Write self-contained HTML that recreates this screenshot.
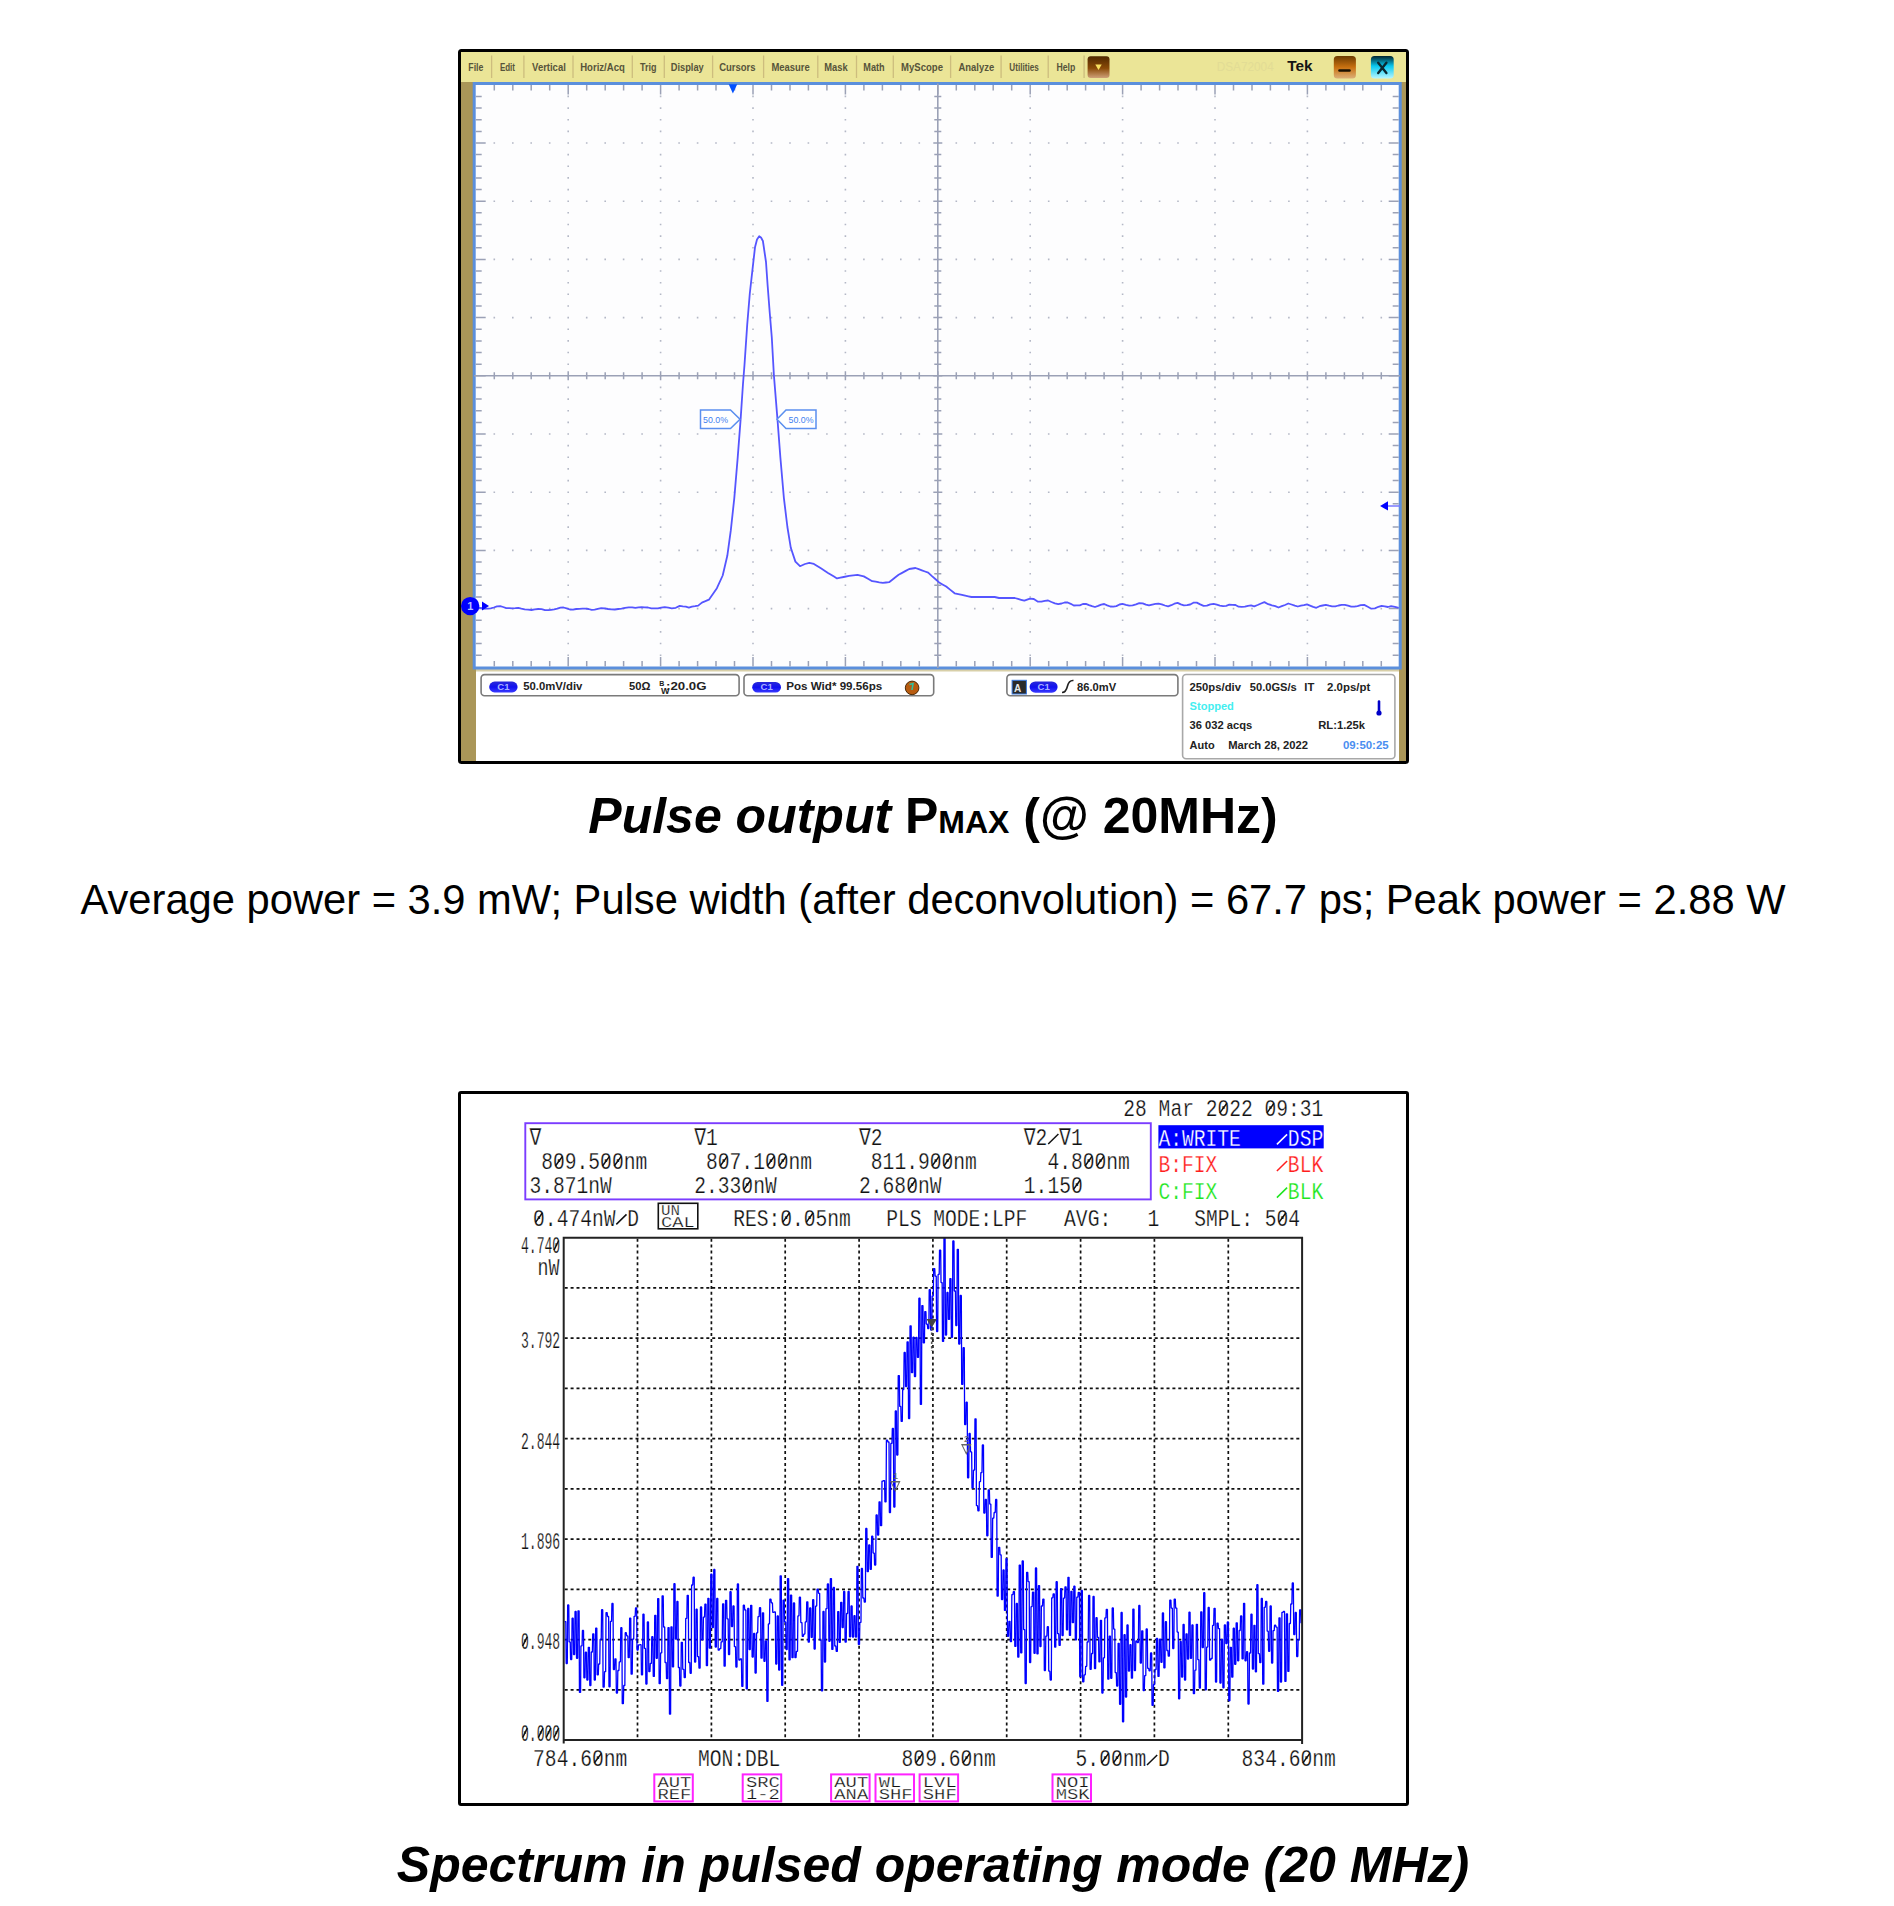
<!DOCTYPE html>
<html><head><meta charset="utf-8"><style>html,body{margin:0;padding:0;background:#fff;}#pg{position:relative;width:1894px;height:1906px;overflow:hidden;background:#fff;}svg{position:absolute;left:0;top:0;}.cap{position:absolute;left:0;width:1866px;text-align:center;font-family:"Liberation Sans",sans-serif;color:#000;white-space:nowrap;}</style></head><body><div id="pg">
<svg width="1894" height="1906" viewBox="0 0 1894 1906">
<rect x="459.5" y="50.5" width="948" height="712" rx="2" fill="#fff" stroke="#000" stroke-width="3"/>
<rect x="461" y="52" width="945" height="30" fill="#ebe597"/>
<rect x="461" y="82" width="15" height="679" fill="#aa9658"/>
<rect x="1399" y="82" width="7" height="679" fill="#aa9658"/>
<rect x="476" y="669" width="923" height="2.5" fill="#d8cfa8"/>
<rect x="474.2" y="83.5" width="926.00" height="584.50" fill="#fdfdfe" stroke="#5b8fdc" stroke-width="3"/>
<path d="M567.4 95.6h1.6v1.6h-1.6zM567.4 107.3h1.6v1.6h-1.6zM567.4 118.9h1.6v1.6h-1.6zM567.4 130.6h1.6v1.6h-1.6zM567.4 142.2h1.6v1.6h-1.6zM567.4 153.8h1.6v1.6h-1.6zM567.4 165.5h1.6v1.6h-1.6zM567.4 177.1h1.6v1.6h-1.6zM567.4 188.8h1.6v1.6h-1.6zM567.4 200.4h1.6v1.6h-1.6zM567.4 212.0h1.6v1.6h-1.6zM567.4 223.7h1.6v1.6h-1.6zM567.4 235.3h1.6v1.6h-1.6zM567.4 247.0h1.6v1.6h-1.6zM567.4 258.6h1.6v1.6h-1.6zM567.4 270.2h1.6v1.6h-1.6zM567.4 281.9h1.6v1.6h-1.6zM567.4 293.5h1.6v1.6h-1.6zM567.4 305.2h1.6v1.6h-1.6zM567.4 316.8h1.6v1.6h-1.6zM567.4 328.4h1.6v1.6h-1.6zM567.4 340.1h1.6v1.6h-1.6zM567.4 351.7h1.6v1.6h-1.6zM567.4 363.4h1.6v1.6h-1.6zM567.4 375.0h1.6v1.6h-1.6zM567.4 386.6h1.6v1.6h-1.6zM567.4 398.3h1.6v1.6h-1.6zM567.4 409.9h1.6v1.6h-1.6zM567.4 421.6h1.6v1.6h-1.6zM567.4 433.2h1.6v1.6h-1.6zM567.4 444.8h1.6v1.6h-1.6zM567.4 456.5h1.6v1.6h-1.6zM567.4 468.1h1.6v1.6h-1.6zM567.4 479.8h1.6v1.6h-1.6zM567.4 491.4h1.6v1.6h-1.6zM567.4 503.0h1.6v1.6h-1.6zM567.4 514.7h1.6v1.6h-1.6zM567.4 526.3h1.6v1.6h-1.6zM567.4 538.0h1.6v1.6h-1.6zM567.4 549.6h1.6v1.6h-1.6zM567.4 561.2h1.6v1.6h-1.6zM567.4 572.9h1.6v1.6h-1.6zM567.4 584.5h1.6v1.6h-1.6zM567.4 596.2h1.6v1.6h-1.6zM567.4 607.8h1.6v1.6h-1.6zM567.4 619.4h1.6v1.6h-1.6zM567.4 631.1h1.6v1.6h-1.6zM567.4 642.7h1.6v1.6h-1.6zM567.4 654.4h1.6v1.6h-1.6zM659.8 95.6h1.6v1.6h-1.6zM659.8 107.3h1.6v1.6h-1.6zM659.8 118.9h1.6v1.6h-1.6zM659.8 130.6h1.6v1.6h-1.6zM659.8 142.2h1.6v1.6h-1.6zM659.8 153.8h1.6v1.6h-1.6zM659.8 165.5h1.6v1.6h-1.6zM659.8 177.1h1.6v1.6h-1.6zM659.8 188.8h1.6v1.6h-1.6zM659.8 200.4h1.6v1.6h-1.6zM659.8 212.0h1.6v1.6h-1.6zM659.8 223.7h1.6v1.6h-1.6zM659.8 235.3h1.6v1.6h-1.6zM659.8 247.0h1.6v1.6h-1.6zM659.8 258.6h1.6v1.6h-1.6zM659.8 270.2h1.6v1.6h-1.6zM659.8 281.9h1.6v1.6h-1.6zM659.8 293.5h1.6v1.6h-1.6zM659.8 305.2h1.6v1.6h-1.6zM659.8 316.8h1.6v1.6h-1.6zM659.8 328.4h1.6v1.6h-1.6zM659.8 340.1h1.6v1.6h-1.6zM659.8 351.7h1.6v1.6h-1.6zM659.8 363.4h1.6v1.6h-1.6zM659.8 375.0h1.6v1.6h-1.6zM659.8 386.6h1.6v1.6h-1.6zM659.8 398.3h1.6v1.6h-1.6zM659.8 409.9h1.6v1.6h-1.6zM659.8 421.6h1.6v1.6h-1.6zM659.8 433.2h1.6v1.6h-1.6zM659.8 444.8h1.6v1.6h-1.6zM659.8 456.5h1.6v1.6h-1.6zM659.8 468.1h1.6v1.6h-1.6zM659.8 479.8h1.6v1.6h-1.6zM659.8 491.4h1.6v1.6h-1.6zM659.8 503.0h1.6v1.6h-1.6zM659.8 514.7h1.6v1.6h-1.6zM659.8 526.3h1.6v1.6h-1.6zM659.8 538.0h1.6v1.6h-1.6zM659.8 549.6h1.6v1.6h-1.6zM659.8 561.2h1.6v1.6h-1.6zM659.8 572.9h1.6v1.6h-1.6zM659.8 584.5h1.6v1.6h-1.6zM659.8 596.2h1.6v1.6h-1.6zM659.8 607.8h1.6v1.6h-1.6zM659.8 619.4h1.6v1.6h-1.6zM659.8 631.1h1.6v1.6h-1.6zM659.8 642.7h1.6v1.6h-1.6zM659.8 654.4h1.6v1.6h-1.6zM752.2 95.6h1.6v1.6h-1.6zM752.2 107.3h1.6v1.6h-1.6zM752.2 118.9h1.6v1.6h-1.6zM752.2 130.6h1.6v1.6h-1.6zM752.2 142.2h1.6v1.6h-1.6zM752.2 153.8h1.6v1.6h-1.6zM752.2 165.5h1.6v1.6h-1.6zM752.2 177.1h1.6v1.6h-1.6zM752.2 188.8h1.6v1.6h-1.6zM752.2 200.4h1.6v1.6h-1.6zM752.2 212.0h1.6v1.6h-1.6zM752.2 223.7h1.6v1.6h-1.6zM752.2 235.3h1.6v1.6h-1.6zM752.2 247.0h1.6v1.6h-1.6zM752.2 258.6h1.6v1.6h-1.6zM752.2 270.2h1.6v1.6h-1.6zM752.2 281.9h1.6v1.6h-1.6zM752.2 293.5h1.6v1.6h-1.6zM752.2 305.2h1.6v1.6h-1.6zM752.2 316.8h1.6v1.6h-1.6zM752.2 328.4h1.6v1.6h-1.6zM752.2 340.1h1.6v1.6h-1.6zM752.2 351.7h1.6v1.6h-1.6zM752.2 363.4h1.6v1.6h-1.6zM752.2 375.0h1.6v1.6h-1.6zM752.2 386.6h1.6v1.6h-1.6zM752.2 398.3h1.6v1.6h-1.6zM752.2 409.9h1.6v1.6h-1.6zM752.2 421.6h1.6v1.6h-1.6zM752.2 433.2h1.6v1.6h-1.6zM752.2 444.8h1.6v1.6h-1.6zM752.2 456.5h1.6v1.6h-1.6zM752.2 468.1h1.6v1.6h-1.6zM752.2 479.8h1.6v1.6h-1.6zM752.2 491.4h1.6v1.6h-1.6zM752.2 503.0h1.6v1.6h-1.6zM752.2 514.7h1.6v1.6h-1.6zM752.2 526.3h1.6v1.6h-1.6zM752.2 538.0h1.6v1.6h-1.6zM752.2 549.6h1.6v1.6h-1.6zM752.2 561.2h1.6v1.6h-1.6zM752.2 572.9h1.6v1.6h-1.6zM752.2 584.5h1.6v1.6h-1.6zM752.2 596.2h1.6v1.6h-1.6zM752.2 607.8h1.6v1.6h-1.6zM752.2 619.4h1.6v1.6h-1.6zM752.2 631.1h1.6v1.6h-1.6zM752.2 642.7h1.6v1.6h-1.6zM752.2 654.4h1.6v1.6h-1.6zM844.6 95.6h1.6v1.6h-1.6zM844.6 107.3h1.6v1.6h-1.6zM844.6 118.9h1.6v1.6h-1.6zM844.6 130.6h1.6v1.6h-1.6zM844.6 142.2h1.6v1.6h-1.6zM844.6 153.8h1.6v1.6h-1.6zM844.6 165.5h1.6v1.6h-1.6zM844.6 177.1h1.6v1.6h-1.6zM844.6 188.8h1.6v1.6h-1.6zM844.6 200.4h1.6v1.6h-1.6zM844.6 212.0h1.6v1.6h-1.6zM844.6 223.7h1.6v1.6h-1.6zM844.6 235.3h1.6v1.6h-1.6zM844.6 247.0h1.6v1.6h-1.6zM844.6 258.6h1.6v1.6h-1.6zM844.6 270.2h1.6v1.6h-1.6zM844.6 281.9h1.6v1.6h-1.6zM844.6 293.5h1.6v1.6h-1.6zM844.6 305.2h1.6v1.6h-1.6zM844.6 316.8h1.6v1.6h-1.6zM844.6 328.4h1.6v1.6h-1.6zM844.6 340.1h1.6v1.6h-1.6zM844.6 351.7h1.6v1.6h-1.6zM844.6 363.4h1.6v1.6h-1.6zM844.6 375.0h1.6v1.6h-1.6zM844.6 386.6h1.6v1.6h-1.6zM844.6 398.3h1.6v1.6h-1.6zM844.6 409.9h1.6v1.6h-1.6zM844.6 421.6h1.6v1.6h-1.6zM844.6 433.2h1.6v1.6h-1.6zM844.6 444.8h1.6v1.6h-1.6zM844.6 456.5h1.6v1.6h-1.6zM844.6 468.1h1.6v1.6h-1.6zM844.6 479.8h1.6v1.6h-1.6zM844.6 491.4h1.6v1.6h-1.6zM844.6 503.0h1.6v1.6h-1.6zM844.6 514.7h1.6v1.6h-1.6zM844.6 526.3h1.6v1.6h-1.6zM844.6 538.0h1.6v1.6h-1.6zM844.6 549.6h1.6v1.6h-1.6zM844.6 561.2h1.6v1.6h-1.6zM844.6 572.9h1.6v1.6h-1.6zM844.6 584.5h1.6v1.6h-1.6zM844.6 596.2h1.6v1.6h-1.6zM844.6 607.8h1.6v1.6h-1.6zM844.6 619.4h1.6v1.6h-1.6zM844.6 631.1h1.6v1.6h-1.6zM844.6 642.7h1.6v1.6h-1.6zM844.6 654.4h1.6v1.6h-1.6zM1029.4 95.6h1.6v1.6h-1.6zM1029.4 107.3h1.6v1.6h-1.6zM1029.4 118.9h1.6v1.6h-1.6zM1029.4 130.6h1.6v1.6h-1.6zM1029.4 142.2h1.6v1.6h-1.6zM1029.4 153.8h1.6v1.6h-1.6zM1029.4 165.5h1.6v1.6h-1.6zM1029.4 177.1h1.6v1.6h-1.6zM1029.4 188.8h1.6v1.6h-1.6zM1029.4 200.4h1.6v1.6h-1.6zM1029.4 212.0h1.6v1.6h-1.6zM1029.4 223.7h1.6v1.6h-1.6zM1029.4 235.3h1.6v1.6h-1.6zM1029.4 247.0h1.6v1.6h-1.6zM1029.4 258.6h1.6v1.6h-1.6zM1029.4 270.2h1.6v1.6h-1.6zM1029.4 281.9h1.6v1.6h-1.6zM1029.4 293.5h1.6v1.6h-1.6zM1029.4 305.2h1.6v1.6h-1.6zM1029.4 316.8h1.6v1.6h-1.6zM1029.4 328.4h1.6v1.6h-1.6zM1029.4 340.1h1.6v1.6h-1.6zM1029.4 351.7h1.6v1.6h-1.6zM1029.4 363.4h1.6v1.6h-1.6zM1029.4 375.0h1.6v1.6h-1.6zM1029.4 386.6h1.6v1.6h-1.6zM1029.4 398.3h1.6v1.6h-1.6zM1029.4 409.9h1.6v1.6h-1.6zM1029.4 421.6h1.6v1.6h-1.6zM1029.4 433.2h1.6v1.6h-1.6zM1029.4 444.8h1.6v1.6h-1.6zM1029.4 456.5h1.6v1.6h-1.6zM1029.4 468.1h1.6v1.6h-1.6zM1029.4 479.8h1.6v1.6h-1.6zM1029.4 491.4h1.6v1.6h-1.6zM1029.4 503.0h1.6v1.6h-1.6zM1029.4 514.7h1.6v1.6h-1.6zM1029.4 526.3h1.6v1.6h-1.6zM1029.4 538.0h1.6v1.6h-1.6zM1029.4 549.6h1.6v1.6h-1.6zM1029.4 561.2h1.6v1.6h-1.6zM1029.4 572.9h1.6v1.6h-1.6zM1029.4 584.5h1.6v1.6h-1.6zM1029.4 596.2h1.6v1.6h-1.6zM1029.4 607.8h1.6v1.6h-1.6zM1029.4 619.4h1.6v1.6h-1.6zM1029.4 631.1h1.6v1.6h-1.6zM1029.4 642.7h1.6v1.6h-1.6zM1029.4 654.4h1.6v1.6h-1.6zM1121.8 95.6h1.6v1.6h-1.6zM1121.8 107.3h1.6v1.6h-1.6zM1121.8 118.9h1.6v1.6h-1.6zM1121.8 130.6h1.6v1.6h-1.6zM1121.8 142.2h1.6v1.6h-1.6zM1121.8 153.8h1.6v1.6h-1.6zM1121.8 165.5h1.6v1.6h-1.6zM1121.8 177.1h1.6v1.6h-1.6zM1121.8 188.8h1.6v1.6h-1.6zM1121.8 200.4h1.6v1.6h-1.6zM1121.8 212.0h1.6v1.6h-1.6zM1121.8 223.7h1.6v1.6h-1.6zM1121.8 235.3h1.6v1.6h-1.6zM1121.8 247.0h1.6v1.6h-1.6zM1121.8 258.6h1.6v1.6h-1.6zM1121.8 270.2h1.6v1.6h-1.6zM1121.8 281.9h1.6v1.6h-1.6zM1121.8 293.5h1.6v1.6h-1.6zM1121.8 305.2h1.6v1.6h-1.6zM1121.8 316.8h1.6v1.6h-1.6zM1121.8 328.4h1.6v1.6h-1.6zM1121.8 340.1h1.6v1.6h-1.6zM1121.8 351.7h1.6v1.6h-1.6zM1121.8 363.4h1.6v1.6h-1.6zM1121.8 375.0h1.6v1.6h-1.6zM1121.8 386.6h1.6v1.6h-1.6zM1121.8 398.3h1.6v1.6h-1.6zM1121.8 409.9h1.6v1.6h-1.6zM1121.8 421.6h1.6v1.6h-1.6zM1121.8 433.2h1.6v1.6h-1.6zM1121.8 444.8h1.6v1.6h-1.6zM1121.8 456.5h1.6v1.6h-1.6zM1121.8 468.1h1.6v1.6h-1.6zM1121.8 479.8h1.6v1.6h-1.6zM1121.8 491.4h1.6v1.6h-1.6zM1121.8 503.0h1.6v1.6h-1.6zM1121.8 514.7h1.6v1.6h-1.6zM1121.8 526.3h1.6v1.6h-1.6zM1121.8 538.0h1.6v1.6h-1.6zM1121.8 549.6h1.6v1.6h-1.6zM1121.8 561.2h1.6v1.6h-1.6zM1121.8 572.9h1.6v1.6h-1.6zM1121.8 584.5h1.6v1.6h-1.6zM1121.8 596.2h1.6v1.6h-1.6zM1121.8 607.8h1.6v1.6h-1.6zM1121.8 619.4h1.6v1.6h-1.6zM1121.8 631.1h1.6v1.6h-1.6zM1121.8 642.7h1.6v1.6h-1.6zM1121.8 654.4h1.6v1.6h-1.6zM1214.2 95.6h1.6v1.6h-1.6zM1214.2 107.3h1.6v1.6h-1.6zM1214.2 118.9h1.6v1.6h-1.6zM1214.2 130.6h1.6v1.6h-1.6zM1214.2 142.2h1.6v1.6h-1.6zM1214.2 153.8h1.6v1.6h-1.6zM1214.2 165.5h1.6v1.6h-1.6zM1214.2 177.1h1.6v1.6h-1.6zM1214.2 188.8h1.6v1.6h-1.6zM1214.2 200.4h1.6v1.6h-1.6zM1214.2 212.0h1.6v1.6h-1.6zM1214.2 223.7h1.6v1.6h-1.6zM1214.2 235.3h1.6v1.6h-1.6zM1214.2 247.0h1.6v1.6h-1.6zM1214.2 258.6h1.6v1.6h-1.6zM1214.2 270.2h1.6v1.6h-1.6zM1214.2 281.9h1.6v1.6h-1.6zM1214.2 293.5h1.6v1.6h-1.6zM1214.2 305.2h1.6v1.6h-1.6zM1214.2 316.8h1.6v1.6h-1.6zM1214.2 328.4h1.6v1.6h-1.6zM1214.2 340.1h1.6v1.6h-1.6zM1214.2 351.7h1.6v1.6h-1.6zM1214.2 363.4h1.6v1.6h-1.6zM1214.2 375.0h1.6v1.6h-1.6zM1214.2 386.6h1.6v1.6h-1.6zM1214.2 398.3h1.6v1.6h-1.6zM1214.2 409.9h1.6v1.6h-1.6zM1214.2 421.6h1.6v1.6h-1.6zM1214.2 433.2h1.6v1.6h-1.6zM1214.2 444.8h1.6v1.6h-1.6zM1214.2 456.5h1.6v1.6h-1.6zM1214.2 468.1h1.6v1.6h-1.6zM1214.2 479.8h1.6v1.6h-1.6zM1214.2 491.4h1.6v1.6h-1.6zM1214.2 503.0h1.6v1.6h-1.6zM1214.2 514.7h1.6v1.6h-1.6zM1214.2 526.3h1.6v1.6h-1.6zM1214.2 538.0h1.6v1.6h-1.6zM1214.2 549.6h1.6v1.6h-1.6zM1214.2 561.2h1.6v1.6h-1.6zM1214.2 572.9h1.6v1.6h-1.6zM1214.2 584.5h1.6v1.6h-1.6zM1214.2 596.2h1.6v1.6h-1.6zM1214.2 607.8h1.6v1.6h-1.6zM1214.2 619.4h1.6v1.6h-1.6zM1214.2 631.1h1.6v1.6h-1.6zM1214.2 642.7h1.6v1.6h-1.6zM1214.2 654.4h1.6v1.6h-1.6zM1306.6 95.6h1.6v1.6h-1.6zM1306.6 107.3h1.6v1.6h-1.6zM1306.6 118.9h1.6v1.6h-1.6zM1306.6 130.6h1.6v1.6h-1.6zM1306.6 142.2h1.6v1.6h-1.6zM1306.6 153.8h1.6v1.6h-1.6zM1306.6 165.5h1.6v1.6h-1.6zM1306.6 177.1h1.6v1.6h-1.6zM1306.6 188.8h1.6v1.6h-1.6zM1306.6 200.4h1.6v1.6h-1.6zM1306.6 212.0h1.6v1.6h-1.6zM1306.6 223.7h1.6v1.6h-1.6zM1306.6 235.3h1.6v1.6h-1.6zM1306.6 247.0h1.6v1.6h-1.6zM1306.6 258.6h1.6v1.6h-1.6zM1306.6 270.2h1.6v1.6h-1.6zM1306.6 281.9h1.6v1.6h-1.6zM1306.6 293.5h1.6v1.6h-1.6zM1306.6 305.2h1.6v1.6h-1.6zM1306.6 316.8h1.6v1.6h-1.6zM1306.6 328.4h1.6v1.6h-1.6zM1306.6 340.1h1.6v1.6h-1.6zM1306.6 351.7h1.6v1.6h-1.6zM1306.6 363.4h1.6v1.6h-1.6zM1306.6 375.0h1.6v1.6h-1.6zM1306.6 386.6h1.6v1.6h-1.6zM1306.6 398.3h1.6v1.6h-1.6zM1306.6 409.9h1.6v1.6h-1.6zM1306.6 421.6h1.6v1.6h-1.6zM1306.6 433.2h1.6v1.6h-1.6zM1306.6 444.8h1.6v1.6h-1.6zM1306.6 456.5h1.6v1.6h-1.6zM1306.6 468.1h1.6v1.6h-1.6zM1306.6 479.8h1.6v1.6h-1.6zM1306.6 491.4h1.6v1.6h-1.6zM1306.6 503.0h1.6v1.6h-1.6zM1306.6 514.7h1.6v1.6h-1.6zM1306.6 526.3h1.6v1.6h-1.6zM1306.6 538.0h1.6v1.6h-1.6zM1306.6 549.6h1.6v1.6h-1.6zM1306.6 561.2h1.6v1.6h-1.6zM1306.6 572.9h1.6v1.6h-1.6zM1306.6 584.5h1.6v1.6h-1.6zM1306.6 596.2h1.6v1.6h-1.6zM1306.6 607.8h1.6v1.6h-1.6zM1306.6 619.4h1.6v1.6h-1.6zM1306.6 631.1h1.6v1.6h-1.6zM1306.6 642.7h1.6v1.6h-1.6zM1306.6 654.4h1.6v1.6h-1.6zM493.5 142.2h1.6v1.6h-1.6zM512.0 142.2h1.6v1.6h-1.6zM530.4 142.2h1.6v1.6h-1.6zM548.9 142.2h1.6v1.6h-1.6zM567.4 142.2h1.6v1.6h-1.6zM585.9 142.2h1.6v1.6h-1.6zM604.4 142.2h1.6v1.6h-1.6zM622.8 142.2h1.6v1.6h-1.6zM641.3 142.2h1.6v1.6h-1.6zM659.8 142.2h1.6v1.6h-1.6zM678.3 142.2h1.6v1.6h-1.6zM696.8 142.2h1.6v1.6h-1.6zM715.2 142.2h1.6v1.6h-1.6zM733.7 142.2h1.6v1.6h-1.6zM752.2 142.2h1.6v1.6h-1.6zM770.7 142.2h1.6v1.6h-1.6zM789.2 142.2h1.6v1.6h-1.6zM807.6 142.2h1.6v1.6h-1.6zM826.1 142.2h1.6v1.6h-1.6zM844.6 142.2h1.6v1.6h-1.6zM863.1 142.2h1.6v1.6h-1.6zM881.6 142.2h1.6v1.6h-1.6zM900.0 142.2h1.6v1.6h-1.6zM918.5 142.2h1.6v1.6h-1.6zM937.0 142.2h1.6v1.6h-1.6zM955.5 142.2h1.6v1.6h-1.6zM974.0 142.2h1.6v1.6h-1.6zM992.4 142.2h1.6v1.6h-1.6zM1010.9 142.2h1.6v1.6h-1.6zM1029.4 142.2h1.6v1.6h-1.6zM1047.9 142.2h1.6v1.6h-1.6zM1066.4 142.2h1.6v1.6h-1.6zM1084.8 142.2h1.6v1.6h-1.6zM1103.3 142.2h1.6v1.6h-1.6zM1121.8 142.2h1.6v1.6h-1.6zM1140.3 142.2h1.6v1.6h-1.6zM1158.8 142.2h1.6v1.6h-1.6zM1177.2 142.2h1.6v1.6h-1.6zM1195.7 142.2h1.6v1.6h-1.6zM1214.2 142.2h1.6v1.6h-1.6zM1232.7 142.2h1.6v1.6h-1.6zM1251.2 142.2h1.6v1.6h-1.6zM1269.6 142.2h1.6v1.6h-1.6zM1288.1 142.2h1.6v1.6h-1.6zM1306.6 142.2h1.6v1.6h-1.6zM1325.1 142.2h1.6v1.6h-1.6zM1343.6 142.2h1.6v1.6h-1.6zM1362.0 142.2h1.6v1.6h-1.6zM1380.5 142.2h1.6v1.6h-1.6zM493.5 200.4h1.6v1.6h-1.6zM512.0 200.4h1.6v1.6h-1.6zM530.4 200.4h1.6v1.6h-1.6zM548.9 200.4h1.6v1.6h-1.6zM567.4 200.4h1.6v1.6h-1.6zM585.9 200.4h1.6v1.6h-1.6zM604.4 200.4h1.6v1.6h-1.6zM622.8 200.4h1.6v1.6h-1.6zM641.3 200.4h1.6v1.6h-1.6zM659.8 200.4h1.6v1.6h-1.6zM678.3 200.4h1.6v1.6h-1.6zM696.8 200.4h1.6v1.6h-1.6zM715.2 200.4h1.6v1.6h-1.6zM733.7 200.4h1.6v1.6h-1.6zM752.2 200.4h1.6v1.6h-1.6zM770.7 200.4h1.6v1.6h-1.6zM789.2 200.4h1.6v1.6h-1.6zM807.6 200.4h1.6v1.6h-1.6zM826.1 200.4h1.6v1.6h-1.6zM844.6 200.4h1.6v1.6h-1.6zM863.1 200.4h1.6v1.6h-1.6zM881.6 200.4h1.6v1.6h-1.6zM900.0 200.4h1.6v1.6h-1.6zM918.5 200.4h1.6v1.6h-1.6zM937.0 200.4h1.6v1.6h-1.6zM955.5 200.4h1.6v1.6h-1.6zM974.0 200.4h1.6v1.6h-1.6zM992.4 200.4h1.6v1.6h-1.6zM1010.9 200.4h1.6v1.6h-1.6zM1029.4 200.4h1.6v1.6h-1.6zM1047.9 200.4h1.6v1.6h-1.6zM1066.4 200.4h1.6v1.6h-1.6zM1084.8 200.4h1.6v1.6h-1.6zM1103.3 200.4h1.6v1.6h-1.6zM1121.8 200.4h1.6v1.6h-1.6zM1140.3 200.4h1.6v1.6h-1.6zM1158.8 200.4h1.6v1.6h-1.6zM1177.2 200.4h1.6v1.6h-1.6zM1195.7 200.4h1.6v1.6h-1.6zM1214.2 200.4h1.6v1.6h-1.6zM1232.7 200.4h1.6v1.6h-1.6zM1251.2 200.4h1.6v1.6h-1.6zM1269.6 200.4h1.6v1.6h-1.6zM1288.1 200.4h1.6v1.6h-1.6zM1306.6 200.4h1.6v1.6h-1.6zM1325.1 200.4h1.6v1.6h-1.6zM1343.6 200.4h1.6v1.6h-1.6zM1362.0 200.4h1.6v1.6h-1.6zM1380.5 200.4h1.6v1.6h-1.6zM493.5 258.6h1.6v1.6h-1.6zM512.0 258.6h1.6v1.6h-1.6zM530.4 258.6h1.6v1.6h-1.6zM548.9 258.6h1.6v1.6h-1.6zM567.4 258.6h1.6v1.6h-1.6zM585.9 258.6h1.6v1.6h-1.6zM604.4 258.6h1.6v1.6h-1.6zM622.8 258.6h1.6v1.6h-1.6zM641.3 258.6h1.6v1.6h-1.6zM659.8 258.6h1.6v1.6h-1.6zM678.3 258.6h1.6v1.6h-1.6zM696.8 258.6h1.6v1.6h-1.6zM715.2 258.6h1.6v1.6h-1.6zM733.7 258.6h1.6v1.6h-1.6zM752.2 258.6h1.6v1.6h-1.6zM770.7 258.6h1.6v1.6h-1.6zM789.2 258.6h1.6v1.6h-1.6zM807.6 258.6h1.6v1.6h-1.6zM826.1 258.6h1.6v1.6h-1.6zM844.6 258.6h1.6v1.6h-1.6zM863.1 258.6h1.6v1.6h-1.6zM881.6 258.6h1.6v1.6h-1.6zM900.0 258.6h1.6v1.6h-1.6zM918.5 258.6h1.6v1.6h-1.6zM937.0 258.6h1.6v1.6h-1.6zM955.5 258.6h1.6v1.6h-1.6zM974.0 258.6h1.6v1.6h-1.6zM992.4 258.6h1.6v1.6h-1.6zM1010.9 258.6h1.6v1.6h-1.6zM1029.4 258.6h1.6v1.6h-1.6zM1047.9 258.6h1.6v1.6h-1.6zM1066.4 258.6h1.6v1.6h-1.6zM1084.8 258.6h1.6v1.6h-1.6zM1103.3 258.6h1.6v1.6h-1.6zM1121.8 258.6h1.6v1.6h-1.6zM1140.3 258.6h1.6v1.6h-1.6zM1158.8 258.6h1.6v1.6h-1.6zM1177.2 258.6h1.6v1.6h-1.6zM1195.7 258.6h1.6v1.6h-1.6zM1214.2 258.6h1.6v1.6h-1.6zM1232.7 258.6h1.6v1.6h-1.6zM1251.2 258.6h1.6v1.6h-1.6zM1269.6 258.6h1.6v1.6h-1.6zM1288.1 258.6h1.6v1.6h-1.6zM1306.6 258.6h1.6v1.6h-1.6zM1325.1 258.6h1.6v1.6h-1.6zM1343.6 258.6h1.6v1.6h-1.6zM1362.0 258.6h1.6v1.6h-1.6zM1380.5 258.6h1.6v1.6h-1.6zM493.5 316.8h1.6v1.6h-1.6zM512.0 316.8h1.6v1.6h-1.6zM530.4 316.8h1.6v1.6h-1.6zM548.9 316.8h1.6v1.6h-1.6zM567.4 316.8h1.6v1.6h-1.6zM585.9 316.8h1.6v1.6h-1.6zM604.4 316.8h1.6v1.6h-1.6zM622.8 316.8h1.6v1.6h-1.6zM641.3 316.8h1.6v1.6h-1.6zM659.8 316.8h1.6v1.6h-1.6zM678.3 316.8h1.6v1.6h-1.6zM696.8 316.8h1.6v1.6h-1.6zM715.2 316.8h1.6v1.6h-1.6zM733.7 316.8h1.6v1.6h-1.6zM752.2 316.8h1.6v1.6h-1.6zM770.7 316.8h1.6v1.6h-1.6zM789.2 316.8h1.6v1.6h-1.6zM807.6 316.8h1.6v1.6h-1.6zM826.1 316.8h1.6v1.6h-1.6zM844.6 316.8h1.6v1.6h-1.6zM863.1 316.8h1.6v1.6h-1.6zM881.6 316.8h1.6v1.6h-1.6zM900.0 316.8h1.6v1.6h-1.6zM918.5 316.8h1.6v1.6h-1.6zM937.0 316.8h1.6v1.6h-1.6zM955.5 316.8h1.6v1.6h-1.6zM974.0 316.8h1.6v1.6h-1.6zM992.4 316.8h1.6v1.6h-1.6zM1010.9 316.8h1.6v1.6h-1.6zM1029.4 316.8h1.6v1.6h-1.6zM1047.9 316.8h1.6v1.6h-1.6zM1066.4 316.8h1.6v1.6h-1.6zM1084.8 316.8h1.6v1.6h-1.6zM1103.3 316.8h1.6v1.6h-1.6zM1121.8 316.8h1.6v1.6h-1.6zM1140.3 316.8h1.6v1.6h-1.6zM1158.8 316.8h1.6v1.6h-1.6zM1177.2 316.8h1.6v1.6h-1.6zM1195.7 316.8h1.6v1.6h-1.6zM1214.2 316.8h1.6v1.6h-1.6zM1232.7 316.8h1.6v1.6h-1.6zM1251.2 316.8h1.6v1.6h-1.6zM1269.6 316.8h1.6v1.6h-1.6zM1288.1 316.8h1.6v1.6h-1.6zM1306.6 316.8h1.6v1.6h-1.6zM1325.1 316.8h1.6v1.6h-1.6zM1343.6 316.8h1.6v1.6h-1.6zM1362.0 316.8h1.6v1.6h-1.6zM1380.5 316.8h1.6v1.6h-1.6zM493.5 433.2h1.6v1.6h-1.6zM512.0 433.2h1.6v1.6h-1.6zM530.4 433.2h1.6v1.6h-1.6zM548.9 433.2h1.6v1.6h-1.6zM567.4 433.2h1.6v1.6h-1.6zM585.9 433.2h1.6v1.6h-1.6zM604.4 433.2h1.6v1.6h-1.6zM622.8 433.2h1.6v1.6h-1.6zM641.3 433.2h1.6v1.6h-1.6zM659.8 433.2h1.6v1.6h-1.6zM678.3 433.2h1.6v1.6h-1.6zM696.8 433.2h1.6v1.6h-1.6zM715.2 433.2h1.6v1.6h-1.6zM733.7 433.2h1.6v1.6h-1.6zM752.2 433.2h1.6v1.6h-1.6zM770.7 433.2h1.6v1.6h-1.6zM789.2 433.2h1.6v1.6h-1.6zM807.6 433.2h1.6v1.6h-1.6zM826.1 433.2h1.6v1.6h-1.6zM844.6 433.2h1.6v1.6h-1.6zM863.1 433.2h1.6v1.6h-1.6zM881.6 433.2h1.6v1.6h-1.6zM900.0 433.2h1.6v1.6h-1.6zM918.5 433.2h1.6v1.6h-1.6zM937.0 433.2h1.6v1.6h-1.6zM955.5 433.2h1.6v1.6h-1.6zM974.0 433.2h1.6v1.6h-1.6zM992.4 433.2h1.6v1.6h-1.6zM1010.9 433.2h1.6v1.6h-1.6zM1029.4 433.2h1.6v1.6h-1.6zM1047.9 433.2h1.6v1.6h-1.6zM1066.4 433.2h1.6v1.6h-1.6zM1084.8 433.2h1.6v1.6h-1.6zM1103.3 433.2h1.6v1.6h-1.6zM1121.8 433.2h1.6v1.6h-1.6zM1140.3 433.2h1.6v1.6h-1.6zM1158.8 433.2h1.6v1.6h-1.6zM1177.2 433.2h1.6v1.6h-1.6zM1195.7 433.2h1.6v1.6h-1.6zM1214.2 433.2h1.6v1.6h-1.6zM1232.7 433.2h1.6v1.6h-1.6zM1251.2 433.2h1.6v1.6h-1.6zM1269.6 433.2h1.6v1.6h-1.6zM1288.1 433.2h1.6v1.6h-1.6zM1306.6 433.2h1.6v1.6h-1.6zM1325.1 433.2h1.6v1.6h-1.6zM1343.6 433.2h1.6v1.6h-1.6zM1362.0 433.2h1.6v1.6h-1.6zM1380.5 433.2h1.6v1.6h-1.6zM493.5 491.4h1.6v1.6h-1.6zM512.0 491.4h1.6v1.6h-1.6zM530.4 491.4h1.6v1.6h-1.6zM548.9 491.4h1.6v1.6h-1.6zM567.4 491.4h1.6v1.6h-1.6zM585.9 491.4h1.6v1.6h-1.6zM604.4 491.4h1.6v1.6h-1.6zM622.8 491.4h1.6v1.6h-1.6zM641.3 491.4h1.6v1.6h-1.6zM659.8 491.4h1.6v1.6h-1.6zM678.3 491.4h1.6v1.6h-1.6zM696.8 491.4h1.6v1.6h-1.6zM715.2 491.4h1.6v1.6h-1.6zM733.7 491.4h1.6v1.6h-1.6zM752.2 491.4h1.6v1.6h-1.6zM770.7 491.4h1.6v1.6h-1.6zM789.2 491.4h1.6v1.6h-1.6zM807.6 491.4h1.6v1.6h-1.6zM826.1 491.4h1.6v1.6h-1.6zM844.6 491.4h1.6v1.6h-1.6zM863.1 491.4h1.6v1.6h-1.6zM881.6 491.4h1.6v1.6h-1.6zM900.0 491.4h1.6v1.6h-1.6zM918.5 491.4h1.6v1.6h-1.6zM937.0 491.4h1.6v1.6h-1.6zM955.5 491.4h1.6v1.6h-1.6zM974.0 491.4h1.6v1.6h-1.6zM992.4 491.4h1.6v1.6h-1.6zM1010.9 491.4h1.6v1.6h-1.6zM1029.4 491.4h1.6v1.6h-1.6zM1047.9 491.4h1.6v1.6h-1.6zM1066.4 491.4h1.6v1.6h-1.6zM1084.8 491.4h1.6v1.6h-1.6zM1103.3 491.4h1.6v1.6h-1.6zM1121.8 491.4h1.6v1.6h-1.6zM1140.3 491.4h1.6v1.6h-1.6zM1158.8 491.4h1.6v1.6h-1.6zM1177.2 491.4h1.6v1.6h-1.6zM1195.7 491.4h1.6v1.6h-1.6zM1214.2 491.4h1.6v1.6h-1.6zM1232.7 491.4h1.6v1.6h-1.6zM1251.2 491.4h1.6v1.6h-1.6zM1269.6 491.4h1.6v1.6h-1.6zM1288.1 491.4h1.6v1.6h-1.6zM1306.6 491.4h1.6v1.6h-1.6zM1325.1 491.4h1.6v1.6h-1.6zM1343.6 491.4h1.6v1.6h-1.6zM1362.0 491.4h1.6v1.6h-1.6zM1380.5 491.4h1.6v1.6h-1.6zM493.5 549.6h1.6v1.6h-1.6zM512.0 549.6h1.6v1.6h-1.6zM530.4 549.6h1.6v1.6h-1.6zM548.9 549.6h1.6v1.6h-1.6zM567.4 549.6h1.6v1.6h-1.6zM585.9 549.6h1.6v1.6h-1.6zM604.4 549.6h1.6v1.6h-1.6zM622.8 549.6h1.6v1.6h-1.6zM641.3 549.6h1.6v1.6h-1.6zM659.8 549.6h1.6v1.6h-1.6zM678.3 549.6h1.6v1.6h-1.6zM696.8 549.6h1.6v1.6h-1.6zM715.2 549.6h1.6v1.6h-1.6zM733.7 549.6h1.6v1.6h-1.6zM752.2 549.6h1.6v1.6h-1.6zM770.7 549.6h1.6v1.6h-1.6zM789.2 549.6h1.6v1.6h-1.6zM807.6 549.6h1.6v1.6h-1.6zM826.1 549.6h1.6v1.6h-1.6zM844.6 549.6h1.6v1.6h-1.6zM863.1 549.6h1.6v1.6h-1.6zM881.6 549.6h1.6v1.6h-1.6zM900.0 549.6h1.6v1.6h-1.6zM918.5 549.6h1.6v1.6h-1.6zM937.0 549.6h1.6v1.6h-1.6zM955.5 549.6h1.6v1.6h-1.6zM974.0 549.6h1.6v1.6h-1.6zM992.4 549.6h1.6v1.6h-1.6zM1010.9 549.6h1.6v1.6h-1.6zM1029.4 549.6h1.6v1.6h-1.6zM1047.9 549.6h1.6v1.6h-1.6zM1066.4 549.6h1.6v1.6h-1.6zM1084.8 549.6h1.6v1.6h-1.6zM1103.3 549.6h1.6v1.6h-1.6zM1121.8 549.6h1.6v1.6h-1.6zM1140.3 549.6h1.6v1.6h-1.6zM1158.8 549.6h1.6v1.6h-1.6zM1177.2 549.6h1.6v1.6h-1.6zM1195.7 549.6h1.6v1.6h-1.6zM1214.2 549.6h1.6v1.6h-1.6zM1232.7 549.6h1.6v1.6h-1.6zM1251.2 549.6h1.6v1.6h-1.6zM1269.6 549.6h1.6v1.6h-1.6zM1288.1 549.6h1.6v1.6h-1.6zM1306.6 549.6h1.6v1.6h-1.6zM1325.1 549.6h1.6v1.6h-1.6zM1343.6 549.6h1.6v1.6h-1.6zM1362.0 549.6h1.6v1.6h-1.6zM1380.5 549.6h1.6v1.6h-1.6zM493.5 607.8h1.6v1.6h-1.6zM512.0 607.8h1.6v1.6h-1.6zM530.4 607.8h1.6v1.6h-1.6zM548.9 607.8h1.6v1.6h-1.6zM567.4 607.8h1.6v1.6h-1.6zM585.9 607.8h1.6v1.6h-1.6zM604.4 607.8h1.6v1.6h-1.6zM622.8 607.8h1.6v1.6h-1.6zM641.3 607.8h1.6v1.6h-1.6zM659.8 607.8h1.6v1.6h-1.6zM678.3 607.8h1.6v1.6h-1.6zM696.8 607.8h1.6v1.6h-1.6zM715.2 607.8h1.6v1.6h-1.6zM733.7 607.8h1.6v1.6h-1.6zM752.2 607.8h1.6v1.6h-1.6zM770.7 607.8h1.6v1.6h-1.6zM789.2 607.8h1.6v1.6h-1.6zM807.6 607.8h1.6v1.6h-1.6zM826.1 607.8h1.6v1.6h-1.6zM844.6 607.8h1.6v1.6h-1.6zM863.1 607.8h1.6v1.6h-1.6zM881.6 607.8h1.6v1.6h-1.6zM900.0 607.8h1.6v1.6h-1.6zM918.5 607.8h1.6v1.6h-1.6zM937.0 607.8h1.6v1.6h-1.6zM955.5 607.8h1.6v1.6h-1.6zM974.0 607.8h1.6v1.6h-1.6zM992.4 607.8h1.6v1.6h-1.6zM1010.9 607.8h1.6v1.6h-1.6zM1029.4 607.8h1.6v1.6h-1.6zM1047.9 607.8h1.6v1.6h-1.6zM1066.4 607.8h1.6v1.6h-1.6zM1084.8 607.8h1.6v1.6h-1.6zM1103.3 607.8h1.6v1.6h-1.6zM1121.8 607.8h1.6v1.6h-1.6zM1140.3 607.8h1.6v1.6h-1.6zM1158.8 607.8h1.6v1.6h-1.6zM1177.2 607.8h1.6v1.6h-1.6zM1195.7 607.8h1.6v1.6h-1.6zM1214.2 607.8h1.6v1.6h-1.6zM1232.7 607.8h1.6v1.6h-1.6zM1251.2 607.8h1.6v1.6h-1.6zM1269.6 607.8h1.6v1.6h-1.6zM1288.1 607.8h1.6v1.6h-1.6zM1306.6 607.8h1.6v1.6h-1.6zM1325.1 607.8h1.6v1.6h-1.6zM1343.6 607.8h1.6v1.6h-1.6zM1362.0 607.8h1.6v1.6h-1.6zM1380.5 607.8h1.6v1.6h-1.6z" fill="#b4b8c6"/>
<line x1="474.2" y1="375.8" x2="1400.2" y2="375.8" stroke="#9ba1b6" stroke-width="1.6"/>
<line x1="937.8" y1="83.5" x2="937.8" y2="668.0" stroke="#9ba1b6" stroke-width="1.6"/>
<path d="M494.3 372.3V379.3M494.3 85.0v5.5M494.3 666.5v-5.5M512.8 372.3V379.3M512.8 85.0v5.5M512.8 666.5v-5.5M531.2 372.3V379.3M531.2 85.0v5.5M531.2 666.5v-5.5M549.7 372.3V379.3M549.7 85.0v5.5M549.7 666.5v-5.5M568.2 371.3V380.3M568.2 85.0v9.5M568.2 666.5v-9.5M586.7 372.3V379.3M586.7 85.0v5.5M586.7 666.5v-5.5M605.2 372.3V379.3M605.2 85.0v5.5M605.2 666.5v-5.5M623.6 372.3V379.3M623.6 85.0v5.5M623.6 666.5v-5.5M642.1 372.3V379.3M642.1 85.0v5.5M642.1 666.5v-5.5M660.6 371.3V380.3M660.6 85.0v9.5M660.6 666.5v-9.5M679.1 372.3V379.3M679.1 85.0v5.5M679.1 666.5v-5.5M697.6 372.3V379.3M697.6 85.0v5.5M697.6 666.5v-5.5M716.0 372.3V379.3M716.0 85.0v5.5M716.0 666.5v-5.5M734.5 372.3V379.3M734.5 85.0v5.5M734.5 666.5v-5.5M753.0 371.3V380.3M753.0 85.0v9.5M753.0 666.5v-9.5M771.5 372.3V379.3M771.5 85.0v5.5M771.5 666.5v-5.5M790.0 372.3V379.3M790.0 85.0v5.5M790.0 666.5v-5.5M808.4 372.3V379.3M808.4 85.0v5.5M808.4 666.5v-5.5M826.9 372.3V379.3M826.9 85.0v5.5M826.9 666.5v-5.5M845.4 371.3V380.3M845.4 85.0v9.5M845.4 666.5v-9.5M863.9 372.3V379.3M863.9 85.0v5.5M863.9 666.5v-5.5M882.4 372.3V379.3M882.4 85.0v5.5M882.4 666.5v-5.5M900.8 372.3V379.3M900.8 85.0v5.5M900.8 666.5v-5.5M919.3 372.3V379.3M919.3 85.0v5.5M919.3 666.5v-5.5M937.8 371.3V380.3M937.8 85.0v9.5M937.8 666.5v-9.5M956.3 372.3V379.3M956.3 85.0v5.5M956.3 666.5v-5.5M974.8 372.3V379.3M974.8 85.0v5.5M974.8 666.5v-5.5M993.2 372.3V379.3M993.2 85.0v5.5M993.2 666.5v-5.5M1011.7 372.3V379.3M1011.7 85.0v5.5M1011.7 666.5v-5.5M1030.2 371.3V380.3M1030.2 85.0v9.5M1030.2 666.5v-9.5M1048.7 372.3V379.3M1048.7 85.0v5.5M1048.7 666.5v-5.5M1067.2 372.3V379.3M1067.2 85.0v5.5M1067.2 666.5v-5.5M1085.6 372.3V379.3M1085.6 85.0v5.5M1085.6 666.5v-5.5M1104.1 372.3V379.3M1104.1 85.0v5.5M1104.1 666.5v-5.5M1122.6 371.3V380.3M1122.6 85.0v9.5M1122.6 666.5v-9.5M1141.1 372.3V379.3M1141.1 85.0v5.5M1141.1 666.5v-5.5M1159.6 372.3V379.3M1159.6 85.0v5.5M1159.6 666.5v-5.5M1178.0 372.3V379.3M1178.0 85.0v5.5M1178.0 666.5v-5.5M1196.5 372.3V379.3M1196.5 85.0v5.5M1196.5 666.5v-5.5M1215.0 371.3V380.3M1215.0 85.0v9.5M1215.0 666.5v-9.5M1233.5 372.3V379.3M1233.5 85.0v5.5M1233.5 666.5v-5.5M1252.0 372.3V379.3M1252.0 85.0v5.5M1252.0 666.5v-5.5M1270.4 372.3V379.3M1270.4 85.0v5.5M1270.4 666.5v-5.5M1288.9 372.3V379.3M1288.9 85.0v5.5M1288.9 666.5v-5.5M1307.4 371.3V380.3M1307.4 85.0v9.5M1307.4 666.5v-9.5M1325.9 372.3V379.3M1325.9 85.0v5.5M1325.9 666.5v-5.5M1344.4 372.3V379.3M1344.4 85.0v5.5M1344.4 666.5v-5.5M1362.8 372.3V379.3M1362.8 85.0v5.5M1362.8 666.5v-5.5M1381.3 372.3V379.3M1381.3 85.0v5.5M1381.3 666.5v-5.5M934.3 96.4H941.3M475.7 96.4h6M1398.7 96.4h-6M934.3 108.1H941.3M475.7 108.1h6M1398.7 108.1h-6M934.3 119.7H941.3M475.7 119.7h6M1398.7 119.7h-6M934.3 131.4H941.3M475.7 131.4h6M1398.7 131.4h-6M933.3 143.0H942.3M475.7 143.0h10M1398.7 143.0h-10M934.3 154.6H941.3M475.7 154.6h6M1398.7 154.6h-6M934.3 166.3H941.3M475.7 166.3h6M1398.7 166.3h-6M934.3 177.9H941.3M475.7 177.9h6M1398.7 177.9h-6M934.3 189.6H941.3M475.7 189.6h6M1398.7 189.6h-6M933.3 201.2H942.3M475.7 201.2h10M1398.7 201.2h-10M934.3 212.8H941.3M475.7 212.8h6M1398.7 212.8h-6M934.3 224.5H941.3M475.7 224.5h6M1398.7 224.5h-6M934.3 236.1H941.3M475.7 236.1h6M1398.7 236.1h-6M934.3 247.8H941.3M475.7 247.8h6M1398.7 247.8h-6M933.3 259.4H942.3M475.7 259.4h10M1398.7 259.4h-10M934.3 271.0H941.3M475.7 271.0h6M1398.7 271.0h-6M934.3 282.7H941.3M475.7 282.7h6M1398.7 282.7h-6M934.3 294.3H941.3M475.7 294.3h6M1398.7 294.3h-6M934.3 306.0H941.3M475.7 306.0h6M1398.7 306.0h-6M933.3 317.6H942.3M475.7 317.6h10M1398.7 317.6h-10M934.3 329.2H941.3M475.7 329.2h6M1398.7 329.2h-6M934.3 340.9H941.3M475.7 340.9h6M1398.7 340.9h-6M934.3 352.5H941.3M475.7 352.5h6M1398.7 352.5h-6M934.3 364.2H941.3M475.7 364.2h6M1398.7 364.2h-6M933.3 375.8H942.3M475.7 375.8h10M1398.7 375.8h-10M934.3 387.4H941.3M475.7 387.4h6M1398.7 387.4h-6M934.3 399.1H941.3M475.7 399.1h6M1398.7 399.1h-6M934.3 410.7H941.3M475.7 410.7h6M1398.7 410.7h-6M934.3 422.4H941.3M475.7 422.4h6M1398.7 422.4h-6M933.3 434.0H942.3M475.7 434.0h10M1398.7 434.0h-10M934.3 445.6H941.3M475.7 445.6h6M1398.7 445.6h-6M934.3 457.3H941.3M475.7 457.3h6M1398.7 457.3h-6M934.3 468.9H941.3M475.7 468.9h6M1398.7 468.9h-6M934.3 480.6H941.3M475.7 480.6h6M1398.7 480.6h-6M933.3 492.2H942.3M475.7 492.2h10M1398.7 492.2h-10M934.3 503.8H941.3M475.7 503.8h6M1398.7 503.8h-6M934.3 515.5H941.3M475.7 515.5h6M1398.7 515.5h-6M934.3 527.1H941.3M475.7 527.1h6M1398.7 527.1h-6M934.3 538.8H941.3M475.7 538.8h6M1398.7 538.8h-6M933.3 550.4H942.3M475.7 550.4h10M1398.7 550.4h-10M934.3 562.0H941.3M475.7 562.0h6M1398.7 562.0h-6M934.3 573.7H941.3M475.7 573.7h6M1398.7 573.7h-6M934.3 585.3H941.3M475.7 585.3h6M1398.7 585.3h-6M934.3 597.0H941.3M475.7 597.0h6M1398.7 597.0h-6M933.3 608.6H942.3M475.7 608.6h10M1398.7 608.6h-10M934.3 620.2H941.3M475.7 620.2h6M1398.7 620.2h-6M934.3 631.9H941.3M475.7 631.9h6M1398.7 631.9h-6M934.3 643.5H941.3M475.7 643.5h6M1398.7 643.5h-6M934.3 655.2H941.3M475.7 655.2h6M1398.7 655.2h-6" stroke="#9ba1b6" stroke-width="1.5" fill="none"/>
<path d="M476.0 607.7 480.1 608.0 484.3 608.5 487.5 608.7 490.7 608.4 493.8 607.5 497.0 606.3 500.2 606.2 503.2 607.0 506.2 608.1 509.2 608.2 512.3 608.4 515.3 608.2 518.3 607.8 521.3 608.6 524.7 609.4 528.1 609.6 531.5 610.0 534.8 609.3 538.2 609.0 541.6 609.1 545.0 610.2 548.1 610.2 551.2 609.8 554.2 609.4 557.3 608.7 560.4 607.6 563.5 607.5 566.7 608.4 569.9 609.5 573.0 609.7 576.2 609.0 579.4 608.8 582.5 608.6 585.5 608.6 588.6 609.0 591.7 609.8 594.7 609.6 597.8 608.8 601.2 608.2 604.6 608.3 608.0 609.0 611.4 609.4 614.8 609.5 618.2 609.0 621.6 608.7 625.1 607.8 628.7 607.4 632.2 607.4 635.4 607.9 638.5 607.4 641.7 607.1 644.8 607.3 648.0 607.5 651.3 608.3 654.6 608.4 657.9 608.3 661.2 607.6 664.7 607.2 668.3 607.6 671.8 608.3 675.8 607.8 679.7 605.9 682.8 606.3 685.8 606.6 688.9 607.6 692.0 606.6 695.1 606.2 698.2 605.6 701.9 602.6 705.4 601.2 708.9 599.7 712.9 594.0 716.9 588.2 722.7 575.5 727.3 555.8 730.8 530.4 734.3 498.1 737.7 457.7 740.6 419.6 743.0 383.7 744.5 364.8 747.2 324.9 749.8 293.5 752.4 270.4 755.0 247.3 757.0 239.5 759.2 236.3 761.0 237.5 762.9 241.0 766.0 262.0 767.6 285.0 769.7 312.3 771.8 337.5 773.9 375.3 777.5 419.6 780.4 457.7 783.9 498.1 787.4 527.0 790.8 547.8 795.4 561.6 800.0 566.2 805.0 564.0 809.3 562.8 813.9 563.9 817.6 566.3 821.3 568.6 825.0 571.0 828.0 572.9 831.0 574.7 834.0 576.5 837.0 578.4 840.4 577.7 843.7 577.0 849.0 575.9 853.2 575.3 857.5 574.8 860.6 575.6 863.8 576.4 868.0 578.8 872.2 581.2 875.7 581.7 879.3 582.3 882.8 582.8 886.0 582.5 889.1 582.2 892.3 579.7 895.4 577.3 898.6 574.8 902.1 572.9 905.7 570.9 909.2 569.0 912.4 568.5 915.5 568.0 918.7 569.2 921.9 570.4 925.0 571.5 928.2 572.7 931.7 575.9 935.3 579.0 938.8 582.2 942.5 584.4 946.2 586.5 950.4 589.9 954.6 593.3 958.3 594.1 962.0 594.9 965.2 595.6 968.3 596.3 971.5 597.0 974.8 597.0 978.1 597.0 981.4 597.0 984.8 597.0 988.1 597.0 991.4 597.0 994.7 597.0 999.0 598.0 1002.2 598.0 1005.3 598.0 1008.5 598.0 1011.6 598.0 1014.8 598.0 1018.0 598.9 1021.1 599.8 1024.3 600.7 1030.0 598.6 1033.8 599.0 1037.6 601.5 1041.4 601.7 1044.8 600.9 1048.1 600.5 1051.5 602.0 1054.9 603.3 1058.2 604.1 1061.6 603.5 1064.6 602.5 1067.7 602.5 1070.7 603.8 1073.8 605.5 1076.8 605.4 1079.8 605.3 1082.9 604.0 1085.9 603.8 1089.0 605.1 1092.0 606.1 1095.0 607.0 1098.1 605.9 1101.2 604.6 1104.2 604.0 1107.2 605.3 1110.3 606.5 1113.3 606.7 1116.4 606.1 1119.5 604.5 1122.5 603.9 1125.9 604.9 1129.2 605.6 1132.6 605.4 1136.0 604.4 1139.3 603.1 1142.7 603.4 1145.9 604.7 1149.0 605.4 1152.2 604.6 1155.4 603.9 1158.6 603.7 1161.8 604.3 1164.9 605.5 1168.1 606.3 1171.3 605.2 1174.4 603.7 1177.6 602.9 1180.8 604.4 1183.9 605.3 1187.1 605.2 1190.2 604.5 1193.4 602.7 1196.8 602.6 1200.2 604.4 1203.6 605.8 1206.9 605.7 1210.3 604.3 1213.7 603.9 1216.8 604.7 1219.9 605.6 1223.0 606.2 1226.2 605.8 1229.3 604.7 1232.4 604.8 1235.5 605.0 1238.6 606.7 1241.7 606.9 1244.9 606.6 1248.0 605.8 1251.1 605.4 1254.2 606.4 1257.6 605.0 1261.0 603.5 1264.4 602.1 1268.2 604.2 1272.0 605.3 1275.3 606.1 1278.5 607.5 1281.8 606.2 1285.0 605.0 1288.3 603.5 1291.5 604.5 1294.8 605.7 1297.8 606.5 1300.9 605.7 1303.9 605.2 1307.0 604.4 1310.0 605.6 1313.2 606.9 1316.3 607.8 1319.5 606.2 1322.7 605.5 1325.8 604.8 1329.0 605.7 1332.1 606.3 1335.3 606.4 1338.5 605.5 1341.7 604.9 1344.8 604.8 1348.0 605.7 1351.2 606.7 1354.3 606.7 1357.5 606.2 1360.7 605.2 1364.2 604.9 1367.8 606.8 1371.3 608.7 1374.9 608.4 1378.4 606.8 1381.6 605.8 1384.8 606.3 1387.9 607.0 1391.1 606.2 1394.9 606.9 1398.7 607.9" fill="none" stroke="#5555ff" stroke-width="1.8" stroke-linejoin="round"/>
<path d="M728.7 84.3 L737.2 84.3 L732.9 93.6 Z" fill="#0050ff"/>
<path d="M1380.1 506 L1388 501.2 L1388 510.6 Z" fill="#0000ff"/><line x1="1388" y1="506" x2="1400" y2="506" stroke="#7777ff" stroke-width="1.5"/>
<path d="M482 601.5 L489 606 L482 610.5 Z" fill="#0000ff"/>
<circle cx="470.2" cy="606.1" r="9.2" fill="#0000ff"/>
<text x="470.2" y="610.2" font-family="'Liberation Sans', sans-serif" font-size="11" font-weight="700" fill="#b8c0ff" text-anchor="middle">1</text>
<path d="M700.5 410 H730.5 L740 419.3 L730.5 428.6 H700.5 Z" fill="#fff" stroke="#5b8fef" stroke-width="1.5"/>
<path d="M816 410 H786 L777 419.3 L786 428.6 H816 Z" fill="#fff" stroke="#5b8fef" stroke-width="1.5"/>
<text x="715.5" y="422.6" font-family="'Liberation Sans', sans-serif" font-size="8.5" fill="#3f7fef" text-anchor="middle" textLength="25" lengthAdjust="spacingAndGlyphs">50.0%</text>
<text x="801" y="422.6" font-family="'Liberation Sans', sans-serif" font-size="8.5" fill="#3f7fef" text-anchor="middle" textLength="25" lengthAdjust="spacingAndGlyphs">50.0%</text>
<text x="468.3" y="70.8" font-family="'Liberation Sans', sans-serif" font-size="10" font-weight="700" fill="#57543a" textLength="15.1" lengthAdjust="spacingAndGlyphs">File</text>
<text x="499.9" y="70.8" font-family="'Liberation Sans', sans-serif" font-size="10" font-weight="700" fill="#57543a" textLength="15.1" lengthAdjust="spacingAndGlyphs">Edit</text>
<text x="532.1" y="70.8" font-family="'Liberation Sans', sans-serif" font-size="10" font-weight="700" fill="#57543a" textLength="33.7" lengthAdjust="spacingAndGlyphs">Vertical</text>
<text x="580.2" y="70.8" font-family="'Liberation Sans', sans-serif" font-size="10" font-weight="700" fill="#57543a" textLength="44.6" lengthAdjust="spacingAndGlyphs">Horiz/Acq</text>
<text x="639.9" y="70.8" font-family="'Liberation Sans', sans-serif" font-size="10" font-weight="700" fill="#57543a" textLength="16.5" lengthAdjust="spacingAndGlyphs">Trig</text>
<text x="670.8" y="70.8" font-family="'Liberation Sans', sans-serif" font-size="10" font-weight="700" fill="#57543a" textLength="32.9" lengthAdjust="spacingAndGlyphs">Display</text>
<text x="719.2" y="70.8" font-family="'Liberation Sans', sans-serif" font-size="10" font-weight="700" fill="#57543a" textLength="36.4" lengthAdjust="spacingAndGlyphs">Cursors</text>
<text x="771.4" y="70.8" font-family="'Liberation Sans', sans-serif" font-size="10" font-weight="700" fill="#57543a" textLength="38.4" lengthAdjust="spacingAndGlyphs">Measure</text>
<text x="824.2" y="70.8" font-family="'Liberation Sans', sans-serif" font-size="10" font-weight="700" fill="#57543a" textLength="23.4" lengthAdjust="spacingAndGlyphs">Mask</text>
<text x="863.3" y="70.8" font-family="'Liberation Sans', sans-serif" font-size="10" font-weight="700" fill="#57543a" textLength="21.3" lengthAdjust="spacingAndGlyphs">Math</text>
<text x="901.1" y="70.8" font-family="'Liberation Sans', sans-serif" font-size="10" font-weight="700" fill="#57543a" textLength="41.9" lengthAdjust="spacingAndGlyphs">MyScope</text>
<text x="958.5" y="70.8" font-family="'Liberation Sans', sans-serif" font-size="10" font-weight="700" fill="#57543a" textLength="35.7" lengthAdjust="spacingAndGlyphs">Analyze</text>
<text x="1009.3" y="70.8" font-family="'Liberation Sans', sans-serif" font-size="10" font-weight="700" fill="#57543a" textLength="29.5" lengthAdjust="spacingAndGlyphs">Utilities</text>
<text x="1056.4" y="70.8" font-family="'Liberation Sans', sans-serif" font-size="10" font-weight="700" fill="#57543a" textLength="18.8" lengthAdjust="spacingAndGlyphs">Help</text>
<path d="M491.6 55.5V78M523.9 55.5V78M573.0 55.5V78M632.3 55.5V78M664.3 55.5V78M712.6 55.5V78M763.6 55.5V78M817.8 55.5V78M856.5 55.5V78M893.3 55.5V78M950.6 55.5V78M1001.1 55.5V78M1048.2 55.5V78M1084.1 55.5V78" stroke="#cdbd7e" stroke-width="1.3"/>
<defs><linearGradient id="gdd" x1="0" y1="0" x2="0" y2="1"><stop offset="0" stop-color="#4e2800"/><stop offset="0.55" stop-color="#8a4a08"/><stop offset="1" stop-color="#cfa27a"/></linearGradient><linearGradient id="gmin" x1="0" y1="0" x2="0" y2="1"><stop offset="0" stop-color="#6a3a00"/><stop offset="0.5" stop-color="#c87010"/><stop offset="1" stop-color="#dcb078"/></linearGradient><linearGradient id="gcls" x1="0" y1="0" x2="0" y2="1"><stop offset="0" stop-color="#00202a"/><stop offset="0.45" stop-color="#08c8f0"/><stop offset="1" stop-color="#b8f6ff"/></linearGradient></defs>
<rect x="1087.6" y="56.2" width="21.9" height="21.9" rx="3" fill="url(#gdd)"/>
<path d="M1095.3 64.5 H1101.7 L1098.5 70 Z" fill="#f8e060"/>
<text x="1216.7" y="71.1" font-family="'Liberation Sans', sans-serif" font-size="12" fill="#e2dc95" textLength="57" lengthAdjust="spacingAndGlyphs">DSA72004</text>
<text x="1287.3" y="71.3" font-family="'Liberation Sans', sans-serif" font-size="15" font-weight="700" fill="#141414" textLength="25.3" lengthAdjust="spacingAndGlyphs">Tek</text>
<rect x="1333.8" y="55.9" width="22.1" height="22.6" rx="3.5" fill="url(#gmin)"/>
<path d="M1339.5 70.5 H1349.5" stroke="#1a1000" stroke-width="2.6" stroke-linecap="round"/>
<rect x="1370.9" y="55.9" width="22.8" height="22.6" rx="3.5" fill="url(#gcls)"/>
<path d="M1378.2 62.7 L1386.4 73.1 M1386.4 62.7 L1378.2 73.1" stroke="#0a2830" stroke-width="2.4" stroke-linecap="round"/>
<defs><linearGradient id="gpill" x1="0" y1="0" x2="0" y2="1"><stop offset="0" stop-color="#2a2ad8"/><stop offset="0.5" stop-color="#1010f0"/><stop offset="1" stop-color="#3a3aff"/></linearGradient></defs>
<rect x="481.1" y="674.6" width="258" height="21.2" rx="3.5" fill="#fff" stroke="#7a7a7a" stroke-width="1.6"/>
<rect x="744" y="674.6" width="189.7" height="21.2" rx="3.5" fill="#fff" stroke="#7a7a7a" stroke-width="1.6"/>
<rect x="1006.9" y="674.6" width="171" height="21.2" rx="3.5" fill="#fff" stroke="#7a7a7a" stroke-width="1.6"/>
<rect x="1182.6" y="674.5" width="212.3" height="84.3" rx="3.5" fill="#fff" stroke="#a8a8a8" stroke-width="1.6"/>
<rect x="489.2" y="681.6" width="28.4" height="10.8" rx="5.4" fill="url(#gpill)"/><text x="503.4" y="690.1" font-family="'Liberation Sans', sans-serif" font-size="9.5" font-weight="700" fill="#a8b0ff" text-anchor="middle">C1</text>
<rect x="752.2" y="682" width="28.8" height="10.6" rx="5.3" fill="url(#gpill)"/><text x="766.6" y="690.3" font-family="'Liberation Sans', sans-serif" font-size="9.5" font-weight="700" fill="#a8b0ff" text-anchor="middle">C1</text>
<rect x="1029.6" y="681.4" width="28.0" height="11.3" rx="5.7" fill="url(#gpill)"/><text x="1043.6" y="690.4" font-family="'Liberation Sans', sans-serif" font-size="9.5" font-weight="700" fill="#a8b0ff" text-anchor="middle">C1</text>
<text x="523.2" y="690.3" font-family="'Liberation Sans', sans-serif" font-size="10.2" font-weight="700" fill="#222" textLength="59.2" lengthAdjust="spacingAndGlyphs">50.0mV/div</text>
<text x="629" y="690.3" font-family="'Liberation Sans', sans-serif" font-size="10.2" font-weight="700" fill="#222" textLength="21.4" lengthAdjust="spacingAndGlyphs">50Ω</text>
<text x="666" y="690.3" font-family="'Liberation Sans', sans-serif" font-size="10.2" font-weight="700" fill="#222" textLength="40.5" lengthAdjust="spacingAndGlyphs">:20.0G</text>
<text x="659.2" y="686" font-family="'Liberation Sans', sans-serif" font-size="7" font-weight="700" fill="#222">B</text><text x="661" y="693.5" font-family="'Liberation Sans', sans-serif" font-size="9" font-weight="700" fill="#222">W</text>
<text x="786.2" y="690.3" font-family="'Liberation Sans', sans-serif" font-size="10.2" font-weight="700" fill="#222" textLength="96.1" lengthAdjust="spacingAndGlyphs">Pos Wid*  99.56ps</text>
<circle cx="912.1" cy="687.9" r="6.8" fill="#b85c10" stroke="#4a2a08" stroke-width="1"/><path d="M909.5 684.5 L913 683.5 L912 690" stroke="#30c0a0" stroke-width="1.6" fill="none"/>
<rect x="1012.1" y="680.3" width="14.3" height="13.7" fill="#2a2a2a" stroke="#3a7ae0" stroke-width="1"/>
<text x="1014" y="691.5" font-family="'Liberation Sans', sans-serif" font-size="10" font-weight="700" fill="#e8e8e8">A</text>
<path d="M1062 692.5 Q1066 692.5 1067.5 686 Q1069 680 1073.5 680.5" stroke="#222" stroke-width="1.6" fill="none"/>
<text x="1077.1" y="690.5" font-family="'Liberation Sans', sans-serif" font-size="10.2" font-weight="700" fill="#222" textLength="39.1" lengthAdjust="spacingAndGlyphs">86.0mV</text>
<text x="1189.6" y="690.5" font-family="'Liberation Sans', sans-serif" font-size="10.2" font-weight="700" fill="#222" textLength="51.3" lengthAdjust="spacingAndGlyphs">250ps/div</text>
<text x="1249.8" y="690.5" font-family="'Liberation Sans', sans-serif" font-size="10.2" font-weight="700" fill="#222" textLength="46.9" lengthAdjust="spacingAndGlyphs">50.0GS/s</text>
<text x="1304.3" y="690.5" font-family="'Liberation Sans', sans-serif" font-size="10.2" font-weight="700" fill="#222" textLength="10" lengthAdjust="spacingAndGlyphs">IT</text>
<text x="1327.1" y="690.5" font-family="'Liberation Sans', sans-serif" font-size="10.2" font-weight="700" fill="#222" textLength="43.1" lengthAdjust="spacingAndGlyphs">2.0ps/pt</text>
<text x="1189.6" y="709.5" font-family="'Liberation Sans', sans-serif" font-size="10.2" font-weight="700" fill="#44eef0" textLength="44.3" lengthAdjust="spacingAndGlyphs">Stopped</text>
<text x="1189.6" y="729.2" font-family="'Liberation Sans', sans-serif" font-size="10.2" font-weight="700" fill="#222" textLength="62.7" lengthAdjust="spacingAndGlyphs">36 032 acqs</text>
<text x="1318.2" y="729.2" font-family="'Liberation Sans', sans-serif" font-size="10.2" font-weight="700" fill="#222" textLength="46.9" lengthAdjust="spacingAndGlyphs">RL:1.25k</text>
<text x="1189.6" y="748.8" font-family="'Liberation Sans', sans-serif" font-size="10.2" font-weight="700" fill="#222" textLength="25" lengthAdjust="spacingAndGlyphs">Auto</text>
<text x="1228.2" y="748.8" font-family="'Liberation Sans', sans-serif" font-size="10.2" font-weight="700" fill="#222" textLength="79.8" lengthAdjust="spacingAndGlyphs">March 28, 2022</text>
<text x="1342.9" y="748.8" font-family="'Liberation Sans', sans-serif" font-size="10.2" font-weight="700" fill="#4a8ef0" textLength="45.7" lengthAdjust="spacingAndGlyphs">09:50:25</text>
<path d="M1379 701.5 V713" stroke="#0000c8" stroke-width="2.6" stroke-linecap="round"/><circle cx="1379" cy="713" r="2.6" fill="#0000c8"/>
<rect x="459.5" y="1092.5" width="948" height="712" rx="1.5" fill="#fff" stroke="#000" stroke-width="3"/>
<path d="M637.5 1238.7V1739.1M711.4 1238.7V1739.1M785.2 1238.7V1739.1M859.1 1238.7V1739.1M932.9 1238.7V1739.1M1006.7 1238.7V1739.1M1080.6 1238.7V1739.1M1154.4 1238.7V1739.1M1228.3 1238.7V1739.1M564.7 1287.9H1301.1M564.7 1338.2H1301.1M564.7 1388.4H1301.1M564.7 1438.7H1301.1M564.7 1488.9H1301.1M564.7 1539.1H1301.1M564.7 1589.4H1301.1M564.7 1639.6H1301.1M564.7 1689.9H1301.1" stroke="#111" stroke-width="1.7" stroke-dasharray="3 2.9"/>
<path d="M564.7 1621.6L565.83 1621.6L566.18 1663.5L567.30 1663.5L567.65 1605.0L568.78 1605.0L569.13 1641.9L570.25 1641.9L570.60 1659.6L571.73 1659.6L572.08 1618.2L573.20 1618.2L573.55 1654.6L574.68 1654.6L575.03 1611.4L576.16 1611.4L576.51 1658.3L577.63 1658.3L577.98 1610.8L579.11 1610.8L579.46 1692.4L580.58 1692.4L580.93 1645.9L582.06 1645.9L582.41 1630.4L583.53 1630.4L583.88 1677.8L585.01 1677.8L585.36 1652.2L586.49 1652.2L586.84 1680.0L587.96 1680.0L588.31 1647.3L589.44 1647.3L589.79 1685.5L590.91 1685.5L591.26 1652.0L592.39 1652.0L592.74 1633.8L593.87 1633.8L594.22 1680.0L595.34 1680.0L595.69 1628.1L596.82 1628.1L597.17 1674.9L598.29 1674.9L598.64 1664.0L599.77 1664.0L600.12 1639.3L601.24 1639.3L601.59 1609.7L602.72 1609.7L603.07 1687.2L604.20 1687.2L604.55 1671.7L605.67 1671.7L606.02 1612.6L607.15 1612.6L607.50 1616.5L608.62 1616.5L608.97 1686.8L610.10 1686.8L610.45 1621.3L611.57 1621.3L611.92 1603.5L613.05 1603.5L613.40 1669.5L614.53 1669.5L614.88 1658.8L616.00 1658.8L616.35 1693.0L617.48 1693.0L617.83 1670.5L618.95 1670.5L619.30 1661.8L620.43 1661.8L620.78 1627.7L621.90 1627.7L622.25 1703.7L623.38 1703.7L623.73 1685.5L624.86 1685.5L625.21 1632.7L626.33 1632.7L626.68 1635.9L627.81 1635.9L628.16 1657.7L629.28 1657.7L629.63 1618.1L630.76 1618.1L631.11 1674.2L632.23 1674.2L632.58 1639.2L633.71 1639.2L634.06 1616.3L635.19 1616.3L635.54 1607.8L636.66 1607.8L637.01 1650.0L638.14 1650.0L638.49 1644.9L639.61 1644.9L639.96 1644.7L641.09 1644.7L641.44 1674.8L642.56 1674.8L642.91 1614.2L644.04 1614.2L644.39 1648.4L645.52 1648.4L645.87 1684.1L646.99 1684.1L647.34 1621.9L648.47 1621.9L648.82 1671.7L649.94 1671.7L650.29 1663.4L651.42 1663.4L651.77 1636.7L652.90 1636.7L653.25 1676.4L654.37 1676.4L654.72 1615.3L655.85 1615.3L656.20 1658.3L657.32 1658.3L657.67 1598.6L658.80 1598.6L659.15 1683.7L660.27 1683.7L660.62 1652.9L661.75 1652.9L662.10 1595.8L663.23 1595.8L663.58 1627.0L664.70 1627.0L665.05 1662.5L666.18 1662.5L666.53 1678.7L667.65 1678.7L668.00 1627.6L669.13 1627.6L669.48 1714.2L670.60 1714.2L670.95 1626.8L672.08 1626.8L672.43 1666.9L673.56 1666.9L673.91 1583.7L675.03 1583.7L675.38 1639.2L676.51 1639.2L676.86 1601.5L677.98 1601.5L678.33 1667.5L679.46 1667.5L679.81 1686.1L680.93 1686.1L681.28 1642.3L682.41 1642.3L682.76 1669.3L683.89 1669.3L684.24 1677.6L685.36 1677.6L685.71 1618.4L686.84 1618.4L687.19 1595.3L688.31 1595.3L688.66 1662.5L689.79 1662.5L690.14 1673.3L691.26 1673.3L691.61 1585.0L692.74 1585.0L693.09 1577.2L694.22 1577.2L694.57 1662.0L695.69 1662.0L696.04 1609.2L697.17 1609.2L697.52 1656.6L698.64 1656.6L698.99 1668.2L700.12 1668.2L700.47 1607.0L701.59 1607.0L701.94 1639.9L703.07 1639.9L703.42 1617.1L704.55 1617.1L704.90 1604.1L706.02 1604.1L706.37 1665.7L707.50 1665.7L707.85 1598.3L708.97 1598.3L709.32 1648.2L710.45 1648.2L710.80 1574.1L711.93 1574.1L712.28 1627.5L713.40 1627.5L713.75 1569.4L714.88 1569.4L715.23 1647.1L716.35 1647.1L716.70 1598.5L717.83 1598.5L718.18 1650.2L719.30 1650.2L719.65 1648.6L720.78 1648.6L721.13 1641.9L722.26 1641.9L722.61 1603.8L723.73 1603.8L724.08 1666.2L725.21 1666.2L725.56 1600.3L726.68 1600.3L727.03 1618.8L728.16 1618.8L728.51 1654.5L729.63 1654.5L729.98 1591.7L731.11 1591.7L731.46 1626.6L732.59 1626.6L732.94 1605.9L734.06 1605.9L734.41 1646.7L735.54 1646.7L735.89 1667.1L737.01 1667.1L737.36 1584.0L738.49 1584.0L738.84 1660.0L739.96 1660.0L740.31 1658.8L741.44 1658.8L741.79 1686.4L742.92 1686.4L743.27 1605.2L744.39 1605.2L744.74 1610.0L745.87 1610.0L746.22 1688.8L747.34 1688.8L747.69 1608.5L748.82 1608.5L749.17 1649.6L750.29 1649.6L750.64 1605.3L751.77 1605.3L752.12 1657.0L753.25 1657.0L753.60 1633.5L754.72 1633.5L755.07 1673.1L756.20 1673.1L756.55 1632.8L757.67 1632.8L758.02 1616.6L759.15 1616.6L759.50 1607.7L760.62 1607.7L760.97 1658.2L762.10 1658.2L762.45 1612.8L763.58 1612.8L763.93 1661.3L765.05 1661.3L765.40 1641.0L766.53 1641.0L766.88 1701.4L768.00 1701.4L768.35 1623.9L769.48 1623.9L769.83 1599.1L770.96 1599.1L771.31 1602.8L772.43 1602.8L772.78 1612.4L773.91 1612.4L774.26 1612.0L775.38 1612.0L775.73 1664.1L776.86 1664.1L777.21 1615.9L778.33 1615.9L778.68 1670.0L779.81 1670.0L780.16 1575.8L781.29 1575.8L781.64 1685.3L782.76 1685.3L783.11 1600.1L784.24 1600.1L784.59 1621.9L785.71 1621.9L786.06 1649.6L787.19 1649.6L787.54 1578.6L788.66 1578.6L789.01 1659.9L790.14 1659.9L790.49 1595.1L791.62 1595.1L791.97 1657.7L793.09 1657.7L793.44 1603.0L794.57 1603.0L794.92 1657.7L796.04 1657.7L796.39 1651.3L797.52 1651.3L797.87 1615.9L798.99 1615.9L799.34 1597.2L800.47 1597.2L800.82 1622.6L801.95 1622.6L802.30 1636.4L803.42 1636.4L803.77 1634.1L804.90 1634.1L805.25 1621.9L806.37 1621.9L806.72 1601.8L807.85 1601.8L808.20 1642.2L809.32 1642.2L809.67 1608.0L810.80 1608.0L811.15 1637.4L812.28 1637.4L812.63 1599.7L813.75 1599.7L814.10 1649.0L815.23 1649.0L815.58 1606.1L816.70 1606.1L817.05 1589.1L818.18 1589.1L818.53 1593.3L819.66 1593.3L820.01 1640.2L821.13 1640.2L821.48 1690.9L822.61 1690.9L822.96 1611.5L824.08 1611.5L824.43 1662.1L825.56 1662.1L825.91 1608.7L827.03 1608.7L827.38 1583.9L828.51 1583.9L828.86 1641.3L829.99 1641.3L830.34 1578.6L831.46 1578.6L831.81 1649.4L832.94 1649.4L833.29 1587.4L834.41 1587.4L834.76 1646.0L835.89 1646.0L836.24 1651.4L837.36 1651.4L837.71 1611.6L838.84 1611.6L839.19 1642.4L840.32 1642.4L840.67 1602.3L841.79 1602.3L842.14 1627.6L843.27 1627.6L843.62 1591.4L844.74 1591.4L845.09 1642.2L846.22 1642.2L846.57 1613.5L847.69 1613.5L848.04 1591.5L849.17 1591.5L849.52 1636.8L850.65 1636.8L851.00 1606.0L852.12 1606.0L852.47 1637.1L853.60 1637.1L853.95 1615.7L855.07 1615.7L855.42 1637.1L856.55 1637.1L856.90 1566.3L858.02 1566.3L858.37 1644.4L859.50 1644.4L859.85 1622.4L860.98 1622.4L861.33 1568.5L862.45 1568.5L862.80 1598.0L863.93 1598.0L864.28 1602.1L865.40 1602.1L865.75 1528.5L866.88 1528.5L867.23 1571.7L868.35 1571.7L868.70 1544.9L869.83 1544.9L870.18 1569.4L871.31 1569.4L871.66 1536.2L872.78 1536.2L873.13 1553.1L874.26 1553.1L874.61 1565.0L875.73 1565.0L876.08 1515.0L877.21 1515.0L877.56 1535.0L878.69 1535.0L879.04 1501.8L880.16 1501.8L880.51 1525.7L881.64 1525.7L881.99 1481.1L883.11 1481.1L883.46 1480.6L884.59 1480.6L884.94 1501.9L886.06 1501.9L886.41 1440.2L887.54 1440.2L887.89 1442.0L889.02 1442.0L889.37 1512.5L890.49 1512.5L890.84 1443.4L891.97 1443.4L892.32 1428.5L893.44 1428.5L893.79 1507.1L894.92 1507.1L895.27 1411.0L896.39 1411.0L896.74 1455.1L897.87 1455.1L898.22 1375.6L899.35 1375.6L899.70 1406.4L900.82 1406.4L901.17 1421.4L902.30 1421.4L902.65 1389.5L903.77 1389.5L904.12 1352.4L905.25 1352.4L905.60 1386.6L906.72 1386.6L907.07 1341.8L908.20 1341.8L908.55 1418.5L909.68 1418.5L910.03 1325.8L911.15 1325.8L911.50 1372.7L912.63 1372.7L912.98 1337.2L914.10 1337.2L914.45 1376.6L915.58 1376.6L915.93 1337.5L917.05 1337.5L917.40 1357.4L918.53 1357.4L918.88 1298.2L920.01 1298.2L920.36 1404.4L921.48 1404.4L921.83 1305.6L922.96 1305.6L923.31 1342.9L924.43 1342.9L924.78 1311.6L925.91 1311.6L926.26 1324.1L927.38 1324.1L927.73 1328.6L928.86 1328.6L929.21 1289.7L930.34 1289.7L930.69 1330.1L931.81 1330.1L932.16 1296.0L933.29 1296.0L933.64 1268.6L934.76 1268.6L935.11 1276.1L936.24 1276.1L936.59 1331.5L937.72 1331.5L938.07 1274.4L939.19 1274.4L939.54 1250.1L940.67 1250.1L941.02 1282.6L942.14 1282.6L942.49 1341.4L943.62 1341.4L943.97 1238.2L945.09 1238.2L945.44 1335.0L946.57 1335.0L946.92 1292.5L948.05 1292.5L948.40 1319.4L949.52 1319.4L949.87 1278.6L951.00 1278.6L951.35 1337.3L952.47 1337.3L952.82 1241.0L953.95 1241.0L954.30 1291.0L955.42 1291.0L955.77 1325.5L956.90 1325.5L957.25 1249.3L958.38 1249.3L958.73 1344.0L959.85 1344.0L960.20 1295.4L961.33 1295.4L961.68 1384.4L962.80 1384.4L963.15 1347.7L964.28 1347.7L964.63 1424.5L965.75 1424.5L966.10 1402.2L967.23 1402.2L967.58 1477.8L968.71 1477.8L969.06 1433.5L970.18 1433.5L970.53 1451.9L971.66 1451.9L972.01 1488.1L973.13 1488.1L973.48 1470.1L974.61 1470.1L974.96 1418.8L976.08 1418.8L976.43 1505.7L977.56 1505.7L977.91 1510.9L979.04 1510.9L979.39 1481.7L980.51 1481.7L980.86 1472.6L981.99 1472.6L982.34 1444.9L983.46 1444.9L983.81 1513.0L984.94 1513.0L985.29 1499.5L986.41 1499.5L986.76 1535.8L987.89 1535.8L988.24 1489.8L989.37 1489.8L989.72 1504.1L990.84 1504.1L991.19 1557.4L992.32 1557.4L992.67 1518.1L993.79 1518.1L994.14 1512.5L995.27 1512.5L995.62 1499.5L996.75 1499.5L997.10 1596.2L998.22 1596.2L998.57 1547.3L999.70 1547.3L1000.05 1554.8L1001.17 1554.8L1001.52 1599.5L1002.65 1599.5L1003.00 1570.0L1004.12 1570.0L1004.47 1610.4L1005.60 1610.4L1005.95 1558.7L1007.08 1558.7L1007.43 1636.3L1008.55 1636.3L1008.90 1621.3L1010.03 1621.3L1010.38 1641.7L1011.50 1641.7L1011.85 1594.6L1012.98 1594.6L1013.33 1591.6L1014.45 1591.6L1014.80 1646.4L1015.93 1646.4L1016.28 1603.5L1017.41 1603.5L1017.76 1657.2L1018.88 1657.2L1019.23 1565.1L1020.36 1565.1L1020.71 1652.9L1021.83 1652.9L1022.18 1560.9L1023.31 1560.9L1023.66 1629.6L1024.78 1629.6L1025.13 1683.6L1026.26 1683.6L1026.61 1572.3L1027.74 1572.3L1028.09 1581.7L1029.21 1581.7L1029.56 1662.5L1030.69 1662.5L1031.04 1606.7L1032.16 1606.7L1032.51 1592.1L1033.64 1592.1L1033.99 1653.3L1035.11 1653.3L1035.46 1568.0L1036.59 1568.0L1036.94 1653.9L1038.07 1653.9L1038.42 1585.6L1039.54 1585.6L1039.89 1646.5L1041.02 1646.5L1041.37 1606.0L1042.49 1606.0L1042.84 1599.1L1043.97 1599.1L1044.32 1670.5L1045.44 1670.5L1045.79 1636.1L1046.92 1636.1L1047.27 1626.7L1048.40 1626.7L1048.75 1671.2L1049.87 1671.2L1050.22 1680.0L1051.35 1680.0L1051.70 1597.8L1052.82 1597.8L1053.17 1593.8L1054.30 1593.8L1054.65 1647.2L1055.78 1647.2L1056.13 1581.7L1057.25 1581.7L1057.60 1633.7L1058.73 1633.7L1059.08 1645.4L1060.20 1645.4L1060.55 1588.7L1061.68 1588.7L1062.03 1635.6L1063.15 1635.6L1063.50 1598.1L1064.63 1598.1L1064.98 1586.8L1066.11 1586.8L1066.46 1629.8L1067.58 1629.8L1067.93 1577.3L1069.06 1577.3L1069.41 1635.4L1070.53 1635.4L1070.88 1591.3L1072.01 1591.3L1072.36 1622.7L1073.48 1622.7L1073.83 1586.2L1074.96 1586.2L1075.31 1639.9L1076.44 1639.9L1076.79 1597.1L1077.91 1597.1L1078.26 1592.3L1079.39 1592.3L1079.74 1676.5L1080.86 1676.5L1081.21 1590.4L1082.34 1590.4L1082.69 1681.9L1083.81 1681.9L1084.16 1674.8L1085.29 1674.8L1085.64 1666.3L1086.77 1666.3L1087.12 1642.0L1088.24 1642.0L1088.59 1595.5L1089.72 1595.5L1090.07 1669.4L1091.19 1669.4L1091.54 1653.5L1092.67 1653.5L1093.02 1596.4L1094.14 1596.4L1094.49 1668.6L1095.62 1668.6L1095.97 1617.7L1097.10 1617.7L1097.45 1637.4L1098.57 1637.4L1098.92 1661.9L1100.05 1661.9L1100.40 1620.3L1101.52 1620.3L1101.87 1693.0L1103.00 1693.0L1103.35 1657.8L1104.48 1657.8L1104.83 1617.9L1105.95 1617.9L1106.30 1609.4L1107.43 1609.4L1107.78 1679.2L1108.90 1679.2L1109.25 1636.1L1110.38 1636.1L1110.73 1678.3L1111.85 1678.3L1112.20 1608.0L1113.33 1608.0L1113.68 1629.1L1114.81 1629.1L1115.16 1672.6L1116.28 1672.6L1116.63 1686.0L1117.76 1686.0L1118.11 1643.3L1119.23 1643.3L1119.58 1704.3L1120.71 1704.3L1121.06 1612.5L1122.18 1612.5L1122.53 1721.8L1123.66 1721.8L1124.01 1634.7L1125.14 1634.7L1125.49 1697.0L1126.61 1697.0L1126.96 1624.9L1128.09 1624.9L1128.44 1671.1L1129.56 1671.1L1129.91 1644.7L1131.04 1644.7L1131.39 1678.2L1132.51 1678.2L1132.86 1609.1L1133.99 1609.1L1134.34 1670.5L1135.47 1670.5L1135.82 1641.0L1136.94 1641.0L1137.29 1642.6L1138.42 1642.6L1138.77 1605.4L1139.89 1605.4L1140.24 1663.0L1141.37 1663.0L1141.72 1630.8L1142.84 1630.8L1143.19 1690.6L1144.32 1690.6L1144.67 1675.6L1145.80 1675.6L1146.15 1628.9L1147.27 1628.9L1147.62 1668.3L1148.75 1668.3L1149.10 1670.8L1150.22 1670.8L1150.57 1652.9L1151.70 1652.9L1152.05 1705.4L1153.17 1705.4L1153.52 1684.5L1154.65 1684.5L1155.00 1669.5L1156.13 1669.5L1156.48 1638.3L1157.60 1638.3L1157.95 1676.4L1159.08 1676.4L1159.43 1639.2L1160.55 1639.2L1160.90 1662.3L1162.03 1662.3L1162.38 1612.9L1163.51 1612.9L1163.86 1667.9L1164.98 1667.9L1165.33 1621.7L1166.46 1621.7L1166.81 1650.5L1167.93 1650.5L1168.28 1656.2L1169.41 1656.2L1169.76 1600.1L1170.88 1600.1L1171.23 1608.2L1172.36 1608.2L1172.71 1648.5L1173.84 1648.5L1174.19 1599.1L1175.31 1599.1L1175.66 1608.1L1176.79 1608.1L1177.14 1632.1L1178.26 1632.1L1178.61 1698.8L1179.74 1698.8L1180.09 1641.4L1181.21 1641.4L1181.56 1677.1L1182.69 1677.1L1183.04 1624.4L1184.17 1624.4L1184.52 1680.0L1185.64 1680.0L1185.99 1633.8L1187.12 1633.8L1187.47 1659.0L1188.59 1659.0L1188.94 1612.2L1190.07 1612.2L1190.42 1658.3L1191.54 1658.3L1191.89 1624.9L1193.02 1624.9L1193.37 1693.7L1194.50 1693.7L1194.85 1670.2L1195.97 1670.2L1196.32 1624.3L1197.45 1624.3L1197.80 1659.7L1198.92 1659.7L1199.27 1688.1L1200.40 1688.1L1200.75 1611.8L1201.87 1611.8L1202.22 1647.5L1203.35 1647.5L1203.70 1592.7L1204.83 1592.7L1205.18 1689.8L1206.30 1689.8L1206.65 1647.1L1207.78 1647.1L1208.13 1607.5L1209.25 1607.5L1209.60 1660.2L1210.73 1660.2L1211.08 1658.5L1212.20 1658.5L1212.55 1625.4L1213.68 1625.4L1214.03 1608.3L1215.16 1608.3L1215.51 1682.0L1216.63 1682.0L1216.98 1623.1L1218.11 1623.1L1218.46 1628.6L1219.58 1628.6L1219.93 1683.0L1221.06 1683.0L1221.41 1639.3L1222.54 1639.3L1222.89 1687.8L1224.01 1687.8L1224.36 1624.9L1225.49 1624.9L1225.84 1643.7L1226.96 1643.7L1227.31 1622.0L1228.44 1622.0L1228.79 1700.8L1229.91 1700.8L1230.26 1647.3L1231.39 1647.3L1231.74 1677.2L1232.87 1677.2L1233.22 1628.2L1234.34 1628.2L1234.69 1664.3L1235.82 1664.3L1236.17 1622.8L1237.29 1622.8L1237.64 1660.8L1238.77 1660.8L1239.12 1630.5L1240.24 1630.5L1240.59 1615.9L1241.72 1615.9L1242.07 1658.9L1243.20 1658.9L1243.55 1603.3L1244.67 1603.3L1245.02 1660.8L1246.15 1660.8L1246.50 1651.7L1247.62 1651.7L1247.97 1704.0L1249.10 1704.0L1249.45 1653.0L1250.57 1653.0L1250.92 1614.2L1252.05 1614.2L1252.40 1669.1L1253.53 1669.1L1253.88 1625.3L1255.00 1625.3L1255.35 1671.8L1256.48 1671.8L1256.83 1584.7L1257.95 1584.7L1258.30 1653.7L1259.43 1653.7L1259.78 1662.6L1260.90 1662.6L1261.25 1598.5L1262.38 1598.5L1262.73 1684.2L1263.86 1684.2L1264.21 1607.3L1265.33 1607.3L1265.68 1601.4L1266.81 1601.4L1267.16 1631.2L1268.28 1631.2L1268.63 1651.3L1269.76 1651.3L1270.11 1605.9L1271.23 1605.9L1271.58 1663.1L1272.71 1663.1L1273.06 1630.6L1274.19 1630.6L1274.54 1625.2L1275.66 1625.2L1276.01 1627.2L1277.14 1627.2L1277.49 1691.4L1278.61 1691.4L1278.96 1617.8L1280.09 1617.8L1280.44 1682.1L1281.57 1682.1L1281.92 1612.3L1283.04 1612.3L1283.39 1611.5L1284.52 1611.5L1284.87 1681.4L1285.99 1681.4L1286.34 1613.8L1287.47 1613.8L1287.82 1671.4L1288.94 1671.4L1289.29 1623.5L1290.42 1623.5L1290.77 1604.0L1291.90 1604.0L1292.25 1583.0L1293.37 1583.0L1293.72 1634.5L1294.85 1634.5L1295.20 1612.4L1296.32 1612.4L1296.67 1656.6L1297.80 1656.6L1298.15 1640.0L1299.27 1640.0L1299.62 1609.8L1300.75 1609.8L1301.10 1623.3" fill="none" stroke="#0000ff" stroke-width="1.3" stroke-linejoin="bevel"/>
<path d="M563.7 1743.6V1237.7H1302.1V1744.1M563.7 1740.1H1302.1" stroke="#222" stroke-width="2" fill="none"/>
<path d="M926.5 1319 H937 L931.7 1327.5 Z" fill="#444"/>
<path d="M931.7 1328 V1351" stroke="#555" stroke-width="1.6" stroke-dasharray="2.5 2"/>
<path d="M890 1481 H900.5 L895.3 1492 Z M891.8 1482.5 H898.7 L895.3 1489.5 Z" fill="#666" fill-rule="evenodd"/>
<text x="895.4" y="1479" font-family="'Liberation Mono', monospace" font-size="9" fill="#666" text-anchor="middle">1</text>
<path d="M961 1444 H971.5 L966.3 1455 Z M962.8 1445.5 H969.7 L966.3 1452.5 Z" fill="#666" fill-rule="evenodd"/>
<text x="966.4" y="1442" font-family="'Liberation Mono', monospace" font-size="9" fill="#666" text-anchor="middle">2</text>
<text x="1123.3" y="1116.1" font-family="'Liberation Mono', monospace" font-size="24.3" fill="#111" textLength="200.1" lengthAdjust="spacingAndGlyphs" xml:space="preserve" stroke="#fff" stroke-width="0.25" >28 Mar 2022 09:31</text><path d="M1219.8 1112.9L1226.9 1103.3M1266.9 1112.9L1274.0 1103.3" stroke="#111" stroke-width="1.5" fill="none"/>
<rect x="525.3" y="1123.2" width="625.5" height="76.2" fill="none" stroke="#7b3cff" stroke-width="1.9"/>
<text x="529.5" y="1145.2" font-family="'Liberation Mono', monospace" font-size="24.3" fill="#111" textLength="553.2" lengthAdjust="spacingAndGlyphs" xml:space="preserve" stroke="#fff" stroke-width="0.25" >∇             ∇1            ∇2            ∇2 ∇1</text><path d="M1048.2 1144.0L1058.4 1134.0" stroke="#111" stroke-width="1.5" fill="none"/>
<text x="529.5" y="1169.2" font-family="'Liberation Mono', monospace" font-size="24.3" fill="#111" textLength="600.3" lengthAdjust="spacingAndGlyphs" xml:space="preserve" stroke="#fff" stroke-width="0.25" > 809.500nm     807.100nm     811.900nm      4.800nm</text><path d="M555.4 1166.0L562.5 1156.4M602.5 1166.0L609.5 1156.4M614.2 1166.0L621.3 1156.4M720.2 1166.0L727.2 1156.4M767.3 1166.0L774.3 1156.4M779.0 1166.0L786.1 1156.4M932.0 1166.0L939.1 1156.4M943.8 1166.0L950.9 1156.4M1085.0 1166.0L1092.1 1156.4M1096.8 1166.0L1103.9 1156.4" stroke="#111" stroke-width="1.5" fill="none"/>
<text x="529.5" y="1192.8" font-family="'Liberation Mono', monospace" font-size="24.3" fill="#111" textLength="553.2" lengthAdjust="spacingAndGlyphs" xml:space="preserve" stroke="#fff" stroke-width="0.25" >3.871nW       2.330nW       2.680nW       1.150</text><path d="M743.7 1189.6L750.8 1180.0M908.5 1189.6L915.6 1180.0M1073.3 1189.6L1080.3 1180.0" stroke="#111" stroke-width="1.5" fill="none"/>
<rect x="1158.4" y="1125.2" width="165.3" height="23.2" fill="#0000ff"/>
<text x="1158.4" y="1145.6" font-family="'Liberation Mono', monospace" font-size="24.3" fill="#ffffff" textLength="164.8" lengthAdjust="spacingAndGlyphs" xml:space="preserve" stroke="#0000ff" stroke-width="0.3" >A:WRITE    DSP</text><path d="M1276.9 1144.4L1287.1 1134.4" stroke="#ffffff" stroke-width="1.5" fill="none"/>
<text x="1158.4" y="1172.2" font-family="'Liberation Mono', monospace" font-size="24.3" fill="#ff1e1e" textLength="164.8" lengthAdjust="spacingAndGlyphs" xml:space="preserve" stroke="#fff" stroke-width="0.25" >B:FIX      BLK</text><path d="M1276.9 1171.0L1287.1 1161.0" stroke="#ff1e1e" stroke-width="1.5" fill="none"/>
<text x="1158.4" y="1198.8" font-family="'Liberation Mono', monospace" font-size="24.3" fill="#1ee61e" textLength="164.8" lengthAdjust="spacingAndGlyphs" xml:space="preserve" stroke="#fff" stroke-width="0.25" >C:FIX      BLK</text><path d="M1276.9 1197.6L1287.1 1187.6" stroke="#1ee61e" stroke-width="1.5" fill="none"/>
<text x="533.1" y="1225.6" font-family="'Liberation Mono', monospace" font-size="24.3" fill="#111" textLength="105.9" lengthAdjust="spacingAndGlyphs" xml:space="preserve" stroke="#fff" stroke-width="0.25" >0.474nW D</text><path d="M535.5 1222.4L542.5 1212.8M616.3 1224.4L626.5 1214.4" stroke="#111" stroke-width="1.5" fill="none"/>
<rect x="658.3" y="1203.3" width="39.5" height="25.5" fill="none" stroke="#111" stroke-width="1.6"/>
<text x="661.0" y="1214.8" font-family="'Liberation Mono', monospace" font-size="15" fill="#111" textLength="19.0" lengthAdjust="spacingAndGlyphs" xml:space="preserve" stroke="#fff" stroke-width="0.25" >UN</text>
<text x="661.0" y="1226.5" font-family="'Liberation Mono', monospace" font-size="15" fill="#111" textLength="33.6" lengthAdjust="spacingAndGlyphs" xml:space="preserve" stroke="#fff" stroke-width="0.25" >CAL</text>
<text x="733.2" y="1225.6" font-family="'Liberation Mono', monospace" font-size="24.3" fill="#111" textLength="117.7" lengthAdjust="spacingAndGlyphs" xml:space="preserve" stroke="#fff" stroke-width="0.25" >RES:0.05nm</text><path d="M782.6 1222.4L789.7 1212.8M806.2 1222.4L813.2 1212.8" stroke="#111" stroke-width="1.5" fill="none"/>
<text x="886.2" y="1225.6" font-family="'Liberation Mono', monospace" font-size="24.3" fill="#111" textLength="141.2" lengthAdjust="spacingAndGlyphs" xml:space="preserve" stroke="#fff" stroke-width="0.25" >PLS MODE:LPF</text>
<text x="1064.1" y="1225.6" font-family="'Liberation Mono', monospace" font-size="24.3" fill="#111" textLength="47.1" lengthAdjust="spacingAndGlyphs" xml:space="preserve" stroke="#fff" stroke-width="0.25" >AVG:</text>
<text x="1147.4" y="1225.6" font-family="'Liberation Mono', monospace" font-size="24.3" fill="#111" textLength="11.8" lengthAdjust="spacingAndGlyphs" xml:space="preserve" stroke="#fff" stroke-width="0.25" >1</text>
<text x="1194.2" y="1225.6" font-family="'Liberation Mono', monospace" font-size="24.3" fill="#111" textLength="105.9" lengthAdjust="spacingAndGlyphs" xml:space="preserve" stroke="#fff" stroke-width="0.25" >SMPL: 504</text><path d="M1278.9 1222.4L1286.0 1212.8" stroke="#111" stroke-width="1.5" fill="none"/>
<text x="521.0" y="1253.3" font-family="'Liberation Mono', monospace" font-size="24.3" fill="#111" textLength="39.2" lengthAdjust="spacingAndGlyphs" xml:space="preserve" stroke="#fff" stroke-width="0.25" >4.740</text><path d="M554.0 1250.1L558.7 1240.5" stroke="#111" stroke-width="1.5" fill="none"/>
<text x="521.0" y="1348.0" font-family="'Liberation Mono', monospace" font-size="24.3" fill="#111" textLength="39.2" lengthAdjust="spacingAndGlyphs" xml:space="preserve" stroke="#fff" stroke-width="0.25" >3.792</text>
<text x="521.0" y="1448.5" font-family="'Liberation Mono', monospace" font-size="24.3" fill="#111" textLength="39.2" lengthAdjust="spacingAndGlyphs" xml:space="preserve" stroke="#fff" stroke-width="0.25" >2.844</text>
<text x="521.0" y="1548.9" font-family="'Liberation Mono', monospace" font-size="24.3" fill="#111" textLength="39.2" lengthAdjust="spacingAndGlyphs" xml:space="preserve" stroke="#fff" stroke-width="0.25" >1.896</text>
<text x="521.0" y="1649.4" font-family="'Liberation Mono', monospace" font-size="24.3" fill="#111" textLength="39.2" lengthAdjust="spacingAndGlyphs" xml:space="preserve" stroke="#fff" stroke-width="0.25" >0.948</text><path d="M522.6 1646.2L527.3 1636.6" stroke="#111" stroke-width="1.5" fill="none"/>
<text x="521.0" y="1740.9" font-family="'Liberation Mono', monospace" font-size="24.3" fill="#111" textLength="39.2" lengthAdjust="spacingAndGlyphs" xml:space="preserve" stroke="#fff" stroke-width="0.25" >0.000</text><path d="M522.6 1737.7L527.3 1728.1M538.3 1737.7L543.0 1728.1M546.1 1737.7L550.8 1728.1M554.0 1737.7L558.7 1728.1" stroke="#111" stroke-width="1.5" fill="none"/>
<text x="537.5" y="1275.0" font-family="'Liberation Mono', monospace" font-size="24.3" fill="#111" textLength="22.0" lengthAdjust="spacingAndGlyphs" xml:space="preserve" stroke="#fff" stroke-width="0.25" >nW</text>
<text x="533.1" y="1766.2" font-family="'Liberation Mono', monospace" font-size="24.3" fill="#111" textLength="94.2" lengthAdjust="spacingAndGlyphs" xml:space="preserve" stroke="#fff" stroke-width="0.25" >784.60nm</text><path d="M594.3 1763.0L601.4 1753.4" stroke="#111" stroke-width="1.5" fill="none"/>
<text x="697.9" y="1766.2" font-family="'Liberation Mono', monospace" font-size="24.3" fill="#111" textLength="82.4" lengthAdjust="spacingAndGlyphs" xml:space="preserve" stroke="#fff" stroke-width="0.25" >MON:DBL</text>
<text x="901.6" y="1766.2" font-family="'Liberation Mono', monospace" font-size="24.3" fill="#111" textLength="94.2" lengthAdjust="spacingAndGlyphs" xml:space="preserve" stroke="#fff" stroke-width="0.25" >809.60nm</text><path d="M915.7 1763.0L922.8 1753.4M962.8 1763.0L969.9 1753.4" stroke="#111" stroke-width="1.5" fill="none"/>
<text x="1075.6" y="1766.2" font-family="'Liberation Mono', monospace" font-size="24.3" fill="#111" textLength="94.2" lengthAdjust="spacingAndGlyphs" xml:space="preserve" stroke="#fff" stroke-width="0.25" >5.00nm D</text><path d="M1101.5 1763.0L1108.6 1753.4M1113.3 1763.0L1120.3 1753.4M1147.0 1765.0L1157.2 1755.0" stroke="#111" stroke-width="1.5" fill="none"/>
<text x="1241.6" y="1766.2" font-family="'Liberation Mono', monospace" font-size="24.3" fill="#111" textLength="94.2" lengthAdjust="spacingAndGlyphs" xml:space="preserve" stroke="#fff" stroke-width="0.25" >834.60nm</text><path d="M1302.8 1763.0L1309.9 1753.4" stroke="#111" stroke-width="1.5" fill="none"/>
<rect x="654.3" y="1774.4" width="38.5" height="27" fill="#fff" stroke="#ff22ff" stroke-width="2"/>
<text x="657.5" y="1787.0" font-family="'Liberation Mono', monospace" font-size="15.5" fill="#111" textLength="33.9" lengthAdjust="spacingAndGlyphs" xml:space="preserve" stroke="#fff" stroke-width="0.25" >AUT</text>
<text x="657.5" y="1799.0" font-family="'Liberation Mono', monospace" font-size="15.5" fill="#111" textLength="33.9" lengthAdjust="spacingAndGlyphs" xml:space="preserve" stroke="#fff" stroke-width="0.25" >REF</text>
<rect x="742.7" y="1774.4" width="38.5" height="27" fill="#fff" stroke="#ff22ff" stroke-width="2"/>
<text x="745.9" y="1787.0" font-family="'Liberation Mono', monospace" font-size="15.5" fill="#111" textLength="33.9" lengthAdjust="spacingAndGlyphs" xml:space="preserve" stroke="#fff" stroke-width="0.25" >SRC</text>
<text x="745.9" y="1799.0" font-family="'Liberation Mono', monospace" font-size="15.5" fill="#111" textLength="33.9" lengthAdjust="spacingAndGlyphs" xml:space="preserve" stroke="#fff" stroke-width="0.25" >1-2</text>
<rect x="831.1" y="1774.4" width="38.5" height="27" fill="#fff" stroke="#ff22ff" stroke-width="2"/>
<text x="834.3" y="1787.0" font-family="'Liberation Mono', monospace" font-size="15.5" fill="#111" textLength="33.9" lengthAdjust="spacingAndGlyphs" xml:space="preserve" stroke="#fff" stroke-width="0.25" >AUT</text>
<text x="834.3" y="1799.0" font-family="'Liberation Mono', monospace" font-size="15.5" fill="#111" textLength="33.9" lengthAdjust="spacingAndGlyphs" xml:space="preserve" stroke="#fff" stroke-width="0.25" >ANA</text>
<rect x="875.5" y="1774.4" width="38.5" height="27" fill="#fff" stroke="#ff22ff" stroke-width="2"/>
<text x="878.7" y="1787.0" font-family="'Liberation Mono', monospace" font-size="15.5" fill="#111" textLength="22.6" lengthAdjust="spacingAndGlyphs" xml:space="preserve" stroke="#fff" stroke-width="0.25" >WL</text>
<text x="878.7" y="1799.0" font-family="'Liberation Mono', monospace" font-size="15.5" fill="#111" textLength="33.9" lengthAdjust="spacingAndGlyphs" xml:space="preserve" stroke="#fff" stroke-width="0.25" >SHF</text>
<rect x="919.6" y="1774.4" width="38.5" height="27" fill="#fff" stroke="#ff22ff" stroke-width="2"/>
<text x="922.8" y="1787.0" font-family="'Liberation Mono', monospace" font-size="15.5" fill="#111" textLength="33.9" lengthAdjust="spacingAndGlyphs" xml:space="preserve" stroke="#fff" stroke-width="0.25" >LVL</text>
<text x="922.8" y="1799.0" font-family="'Liberation Mono', monospace" font-size="15.5" fill="#111" textLength="33.9" lengthAdjust="spacingAndGlyphs" xml:space="preserve" stroke="#fff" stroke-width="0.25" >SHF</text>
<rect x="1052.5" y="1774.4" width="38.5" height="27" fill="#fff" stroke="#ff22ff" stroke-width="2"/>
<text x="1055.7" y="1787.0" font-family="'Liberation Mono', monospace" font-size="15.5" fill="#111" textLength="33.9" lengthAdjust="spacingAndGlyphs" xml:space="preserve" stroke="#fff" stroke-width="0.25" >NOI</text>
<text x="1055.7" y="1799.0" font-family="'Liberation Mono', monospace" font-size="15.5" fill="#111" textLength="33.9" lengthAdjust="spacingAndGlyphs" xml:space="preserve" stroke="#fff" stroke-width="0.25" >MSK</text>
</svg>
<div class="cap" style="top:786px;font-size:50px;font-weight:700;line-height:60px;"><i>Pulse output</i> P<span style="font-size:32px">MAX</span> (@ 20MHz)</div>
<div class="cap" style="top:874.5px;font-size:41.7px;line-height:50px;">Average power = 3.9 mW; Pulse width (after deconvolution) = 67.7 ps; Peak power = 2.88 W</div>
<div class="cap" style="top:1835px;font-size:50px;font-weight:700;font-style:italic;line-height:60px;">Spectrum in pulsed operating mode (20 MHz)</div>
</div></body></html>
